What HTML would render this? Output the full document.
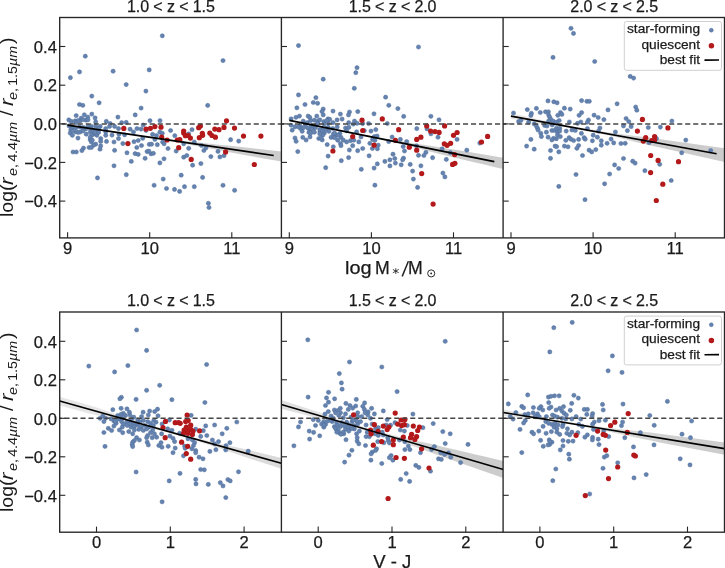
<!DOCTYPE html><html><head><meta charset="utf-8"><title>chart</title><style>
html,body{margin:0;padding:0;background:#fff;}
body{width:725px;height:568px;position:relative;overflow:hidden;font-family:"Liberation Sans",sans-serif;color:#1a1a1a;}
.t{position:absolute;white-space:nowrap;line-height:1;-webkit-text-stroke:0.25px #1a1a1a;}
.tt{font-size:16px;letter-spacing:-0.1px;transform:translateX(-50%);}
.yl{font-size:16.6px;text-align:right;width:50px;}
.xl{font-size:16.6px;transform:translateX(-50%);}
.ax{font-size:18.5px;transform:translateX(-50%);}
.lg{font-size:13.7px;text-align:right;width:80px;}
.ylab{position:absolute;font-size:20px;white-space:nowrap;line-height:1;transform-origin:0 0;transform:rotate(-90deg);}
.ylab i{font-family:"Liberation Sans",sans-serif;font-style:italic;}
.ylab sub{font-size:14px;font-style:italic;vertical-align:baseline;position:relative;top:5px;letter-spacing:0.3px;}
</style></head><body><svg width="725" height="568" viewBox="0 0 725 568" style="position:absolute;left:0;top:0"><defs><clipPath id="c0"><rect x="59.7" y="17.5" width="221.7" height="220.4"/></clipPath><clipPath id="c1"><rect x="281.4" y="17.5" width="221.7" height="220.4"/></clipPath><clipPath id="c2"><rect x="503.1" y="17.5" width="221.4" height="220.4"/></clipPath><clipPath id="c3"><rect x="59.7" y="312.0" width="221.7" height="220.2"/></clipPath><clipPath id="c4"><rect x="281.4" y="312.0" width="221.7" height="220.2"/></clipPath><clipPath id="c5"><rect x="503.1" y="312.0" width="221.4" height="220.2"/></clipPath></defs><g clip-path="url(#c0)"><linearGradient id="g0" gradientUnits="userSpaceOnUse" x1="67.4" y1="0" x2="281.4" y2="0"><stop offset="0.0000" stop-color="#c0c0c0" stop-opacity="0.300"/><stop offset="0.0417" stop-color="#c0c0c0" stop-opacity="0.309"/><stop offset="0.0833" stop-color="#c0c0c0" stop-opacity="0.317"/><stop offset="0.1250" stop-color="#c0c0c0" stop-opacity="0.326"/><stop offset="0.1667" stop-color="#c0c0c0" stop-opacity="0.335"/><stop offset="0.2083" stop-color="#c0c0c0" stop-opacity="0.343"/><stop offset="0.2500" stop-color="#c0c0c0" stop-opacity="0.352"/><stop offset="0.2917" stop-color="#c0c0c0" stop-opacity="0.361"/><stop offset="0.3333" stop-color="#c0c0c0" stop-opacity="0.370"/><stop offset="0.3750" stop-color="#c0c0c0" stop-opacity="0.378"/><stop offset="0.4167" stop-color="#c0c0c0" stop-opacity="0.387"/><stop offset="0.4583" stop-color="#c0c0c0" stop-opacity="0.396"/><stop offset="0.5000" stop-color="#c0c0c0" stop-opacity="0.451"/><stop offset="0.5417" stop-color="#c0c0c0" stop-opacity="0.555"/><stop offset="0.5833" stop-color="#c0c0c0" stop-opacity="0.659"/><stop offset="0.6250" stop-color="#c0c0c0" stop-opacity="0.751"/><stop offset="0.6667" stop-color="#c0c0c0" stop-opacity="0.763"/><stop offset="0.7083" stop-color="#c0c0c0" stop-opacity="0.774"/><stop offset="0.7500" stop-color="#c0c0c0" stop-opacity="0.785"/><stop offset="0.7917" stop-color="#c0c0c0" stop-opacity="0.796"/><stop offset="0.8333" stop-color="#c0c0c0" stop-opacity="0.800"/><stop offset="0.8750" stop-color="#c0c0c0" stop-opacity="0.800"/><stop offset="0.9167" stop-color="#c0c0c0" stop-opacity="0.800"/><stop offset="0.9583" stop-color="#c0c0c0" stop-opacity="0.800"/><stop offset="1.0000" stop-color="#c0c0c0" stop-opacity="0.800"/></linearGradient><polygon fill="url(#g0)" points="67.4,124.6 76.3,125.9 85.2,127.2 94.2,128.5 103.1,129.8 112.0,131.1 120.9,132.4 129.8,133.7 138.7,135.0 147.6,136.3 156.6,137.6 165.5,138.9 174.4,140.0 183.3,140.9 192.2,141.8 201.1,142.8 210.1,143.7 219.0,144.7 227.9,145.6 236.8,146.6 245.7,147.6 254.6,148.6 263.6,149.6 272.5,150.6 281.4,151.6 281.4,161.6 272.5,160.0 263.6,158.4 254.6,156.8 245.7,155.2 236.8,153.5 227.9,151.9 219.0,150.2 210.1,148.5 201.1,146.9 192.2,145.2 183.3,143.5 174.4,141.8 165.5,140.2 156.6,138.9 147.6,137.6 138.7,136.3 129.8,134.9 120.9,133.6 112.0,132.3 103.1,130.9 94.2,129.6 85.2,128.3 76.3,126.9 67.4,125.6"/><g fill="#6583ae" stroke="#4f6e9e" stroke-width="0.5"><circle cx="162.3" cy="35.8" r="2.1"/><circle cx="85.3" cy="56.2" r="2.1"/><circle cx="79.5" cy="71.9" r="2.1"/><circle cx="70.4" cy="77.7" r="2.1"/><circle cx="113.1" cy="71.2" r="2.1"/><circle cx="149.2" cy="69.9" r="2.1"/><circle cx="126.2" cy="84.6" r="2.1"/><circle cx="145.9" cy="91.1" r="2.1"/><circle cx="91.8" cy="96.1" r="2.1"/><circle cx="99.1" cy="102.8" r="2.1"/><circle cx="79.5" cy="104.5" r="2.1"/><circle cx="82.8" cy="105.3" r="2.1"/><circle cx="141.1" cy="108.1" r="2.1"/><circle cx="135.2" cy="114.9" r="2.1"/><circle cx="76.2" cy="115.6" r="2.1"/><circle cx="84.3" cy="114.8" r="2.1"/><circle cx="91.8" cy="114.1" r="2.1"/><circle cx="117.9" cy="117.1" r="2.1"/><circle cx="81.2" cy="118.2" r="2.1"/><circle cx="87.8" cy="117.1" r="2.1"/><circle cx="95.1" cy="117.9" r="2.1"/><circle cx="68.8" cy="119.9" r="2.1"/><circle cx="86.1" cy="120.2" r="2.1"/><circle cx="150.0" cy="120.7" r="2.1"/><circle cx="160.0" cy="120.7" r="2.1"/><circle cx="106.3" cy="121.4" r="2.1"/><circle cx="95.7" cy="121.9" r="2.1"/><circle cx="126.2" cy="122.4" r="2.1"/><circle cx="121.7" cy="122.7" r="2.1"/><circle cx="110.2" cy="123.5" r="2.1"/><circle cx="71.3" cy="121.4" r="2.1"/><circle cx="75.2" cy="120.9" r="2.1"/><circle cx="80.2" cy="120.9" r="2.1"/><circle cx="88.0" cy="119.8" r="2.1"/><circle cx="69.1" cy="125.9" r="2.1"/><circle cx="72.4" cy="127.5" r="2.1"/><circle cx="75.8" cy="128.1" r="2.1"/><circle cx="70.8" cy="129.8" r="2.1"/><circle cx="83.5" cy="127.5" r="2.1"/><circle cx="88.0" cy="126.4" r="2.1"/><circle cx="91.3" cy="126.4" r="2.1"/><circle cx="95.7" cy="126.4" r="2.1"/><circle cx="100.2" cy="126.4" r="2.1"/><circle cx="105.7" cy="128.6" r="2.1"/><circle cx="109.6" cy="126.4" r="2.1"/><circle cx="114.6" cy="126.4" r="2.1"/><circle cx="118.5" cy="128.6" r="2.1"/><circle cx="130.1" cy="129.2" r="2.1"/><circle cx="133.5" cy="132.0" r="2.1"/><circle cx="137.0" cy="128.6" r="2.1"/><circle cx="70.2" cy="133.1" r="2.1"/><circle cx="72.4" cy="135.3" r="2.1"/><circle cx="75.8" cy="132.0" r="2.1"/><circle cx="80.2" cy="132.0" r="2.1"/><circle cx="78.0" cy="138.1" r="2.1"/><circle cx="86.3" cy="134.2" r="2.1"/><circle cx="90.2" cy="132.0" r="2.1"/><circle cx="93.5" cy="134.2" r="2.1"/><circle cx="96.8" cy="132.0" r="2.1"/><circle cx="96.8" cy="135.3" r="2.1"/><circle cx="105.7" cy="132.0" r="2.1"/><circle cx="105.7" cy="135.3" r="2.1"/><circle cx="112.0" cy="135.1" r="2.1"/><circle cx="119.0" cy="134.2" r="2.1"/><circle cx="124.6" cy="134.8" r="2.1"/><circle cx="90.2" cy="139.7" r="2.1"/><circle cx="91.3" cy="142.0" r="2.1"/><circle cx="100.7" cy="138.6" r="2.1"/><circle cx="100.7" cy="141.4" r="2.1"/><circle cx="106.5" cy="141.4" r="2.1"/><circle cx="118.5" cy="138.6" r="2.1"/><circle cx="114.0" cy="142.0" r="2.1"/><circle cx="122.9" cy="143.6" r="2.1"/><circle cx="134.0" cy="141.7" r="2.1"/><circle cx="95.7" cy="144.2" r="2.1"/><circle cx="93.5" cy="145.3" r="2.1"/><circle cx="89.1" cy="147.5" r="2.1"/><circle cx="91.3" cy="147.5" r="2.1"/><circle cx="83.5" cy="148.1" r="2.1"/><circle cx="81.9" cy="150.6" r="2.1"/><circle cx="100.7" cy="145.9" r="2.1"/><circle cx="100.0" cy="149.2" r="2.1"/><circle cx="73.0" cy="152.0" r="2.1"/><circle cx="76.3" cy="152.0" r="2.1"/><circle cx="114.6" cy="150.3" r="2.1"/><circle cx="127.0" cy="152.8" r="2.1"/><circle cx="136.8" cy="147.5" r="2.1"/><circle cx="135.1" cy="153.6" r="2.1"/><circle cx="131.3" cy="161.4" r="2.1"/><circle cx="114.0" cy="165.8" r="2.1"/><circle cx="126.3" cy="174.7" r="2.1"/><circle cx="97.5" cy="177.9" r="2.1"/><circle cx="143.2" cy="125.0" r="2.1"/><circle cx="141.0" cy="129.1" r="2.1"/><circle cx="146.0" cy="130.5" r="2.1"/><circle cx="170.6" cy="130.5" r="2.1"/><circle cx="192.0" cy="129.7" r="2.1"/><circle cx="152.6" cy="134.4" r="2.1"/><circle cx="156.5" cy="135.7" r="2.1"/><circle cx="159.9" cy="132.2" r="2.1"/><circle cx="162.3" cy="133.3" r="2.1"/><circle cx="174.8" cy="135.7" r="2.1"/><circle cx="188.7" cy="133.9" r="2.1"/><circle cx="142.7" cy="138.3" r="2.1"/><circle cx="138.2" cy="140.5" r="2.1"/><circle cx="154.9" cy="139.4" r="2.1"/><circle cx="162.6" cy="142.0" r="2.1"/><circle cx="164.1" cy="143.8" r="2.1"/><circle cx="194.3" cy="142.0" r="2.1"/><circle cx="183.7" cy="143.8" r="2.1"/><circle cx="141.5" cy="145.5" r="2.1"/><circle cx="149.3" cy="144.4" r="2.1"/><circle cx="151.5" cy="144.2" r="2.1"/><circle cx="157.3" cy="144.7" r="2.1"/><circle cx="168.0" cy="148.5" r="2.1"/><circle cx="188.7" cy="148.3" r="2.1"/><circle cx="201.5" cy="145.5" r="2.1"/><circle cx="205.9" cy="147.9" r="2.1"/><circle cx="203.9" cy="150.5" r="2.1"/><circle cx="176.2" cy="151.1" r="2.1"/><circle cx="147.1" cy="151.6" r="2.1"/><circle cx="148.8" cy="151.1" r="2.1"/><circle cx="151.0" cy="153.8" r="2.1"/><circle cx="153.4" cy="153.3" r="2.1"/><circle cx="138.2" cy="154.4" r="2.1"/><circle cx="145.1" cy="158.3" r="2.1"/><circle cx="164.0" cy="158.8" r="2.1"/><circle cx="183.7" cy="157.2" r="2.1"/><circle cx="186.8" cy="155.5" r="2.1"/><circle cx="210.9" cy="156.6" r="2.1"/><circle cx="159.9" cy="162.9" r="2.1"/><circle cx="200.9" cy="163.6" r="2.1"/><circle cx="192.6" cy="165.2" r="2.1"/><circle cx="181.2" cy="175.2" r="2.1"/><circle cx="202.6" cy="177.4" r="2.1"/><circle cx="163.2" cy="179.1" r="2.1"/><circle cx="154.1" cy="185.3" r="2.1"/><circle cx="166.5" cy="188.5" r="2.1"/><circle cx="174.5" cy="189.4" r="2.1"/><circle cx="179.6" cy="191.4" r="2.1"/><circle cx="184.5" cy="186.7" r="2.1"/><circle cx="194.3" cy="186.7" r="2.1"/><circle cx="208.4" cy="203.3" r="2.1"/><circle cx="209.0" cy="207.5" r="2.1"/><circle cx="223.0" cy="60.6" r="2.1"/><circle cx="207.7" cy="105.4" r="2.1"/><circle cx="230.6" cy="139.7" r="2.1"/><circle cx="238.7" cy="141.1" r="2.1"/><circle cx="218.0" cy="151.4" r="2.1"/><circle cx="219.9" cy="156.9" r="2.1"/><circle cx="224.0" cy="155.7" r="2.1"/><circle cx="223.0" cy="185.3" r="2.1"/><circle cx="234.6" cy="190.3" r="2.1"/><circle cx="78.2" cy="120.5" r="2.1"/><circle cx="76.1" cy="122.6" r="2.1"/><circle cx="83.1" cy="119.7" r="2.1"/><circle cx="82.4" cy="128.2" r="2.1"/><circle cx="79.6" cy="126.8" r="2.1"/><circle cx="85.9" cy="128.9" r="2.1"/><circle cx="83.1" cy="131.0" r="2.1"/><circle cx="78.2" cy="132.4" r="2.1"/><circle cx="90.2" cy="128.2" r="2.1"/><circle cx="93.0" cy="130.3" r="2.1"/><circle cx="91.6" cy="135.2" r="2.1"/><circle cx="95.1" cy="132.4" r="2.1"/><circle cx="98.6" cy="128.2" r="2.1"/><circle cx="98.6" cy="132.4" r="2.1"/><circle cx="72.6" cy="131.0" r="2.1"/><circle cx="90.2" cy="137.4" r="2.1"/><circle cx="92.3" cy="140.2" r="2.1"/></g><g fill="#b3181a"><circle cx="123.8" cy="128.4" r="2.6"/><circle cx="127.9" cy="143.6" r="2.6"/><circle cx="146.0" cy="129.1" r="2.6"/><circle cx="150.4" cy="128.3" r="2.6"/><circle cx="154.9" cy="126.6" r="2.6"/><circle cx="161.0" cy="127.2" r="2.6"/><circle cx="161.7" cy="137.2" r="2.6"/><circle cx="167.1" cy="140.0" r="2.6"/><circle cx="177.3" cy="140.0" r="2.6"/><circle cx="179.8" cy="139.7" r="2.6"/><circle cx="178.7" cy="147.7" r="2.6"/><circle cx="183.7" cy="131.1" r="2.6"/><circle cx="183.7" cy="133.1" r="2.6"/><circle cx="185.4" cy="135.7" r="2.6"/><circle cx="188.2" cy="135.5" r="2.6"/><circle cx="190.4" cy="138.1" r="2.6"/><circle cx="200.4" cy="126.1" r="2.6"/><circle cx="198.7" cy="127.7" r="2.6"/><circle cx="202.3" cy="133.3" r="2.6"/><circle cx="199.3" cy="137.7" r="2.6"/><circle cx="202.6" cy="135.3" r="2.6"/><circle cx="209.8" cy="133.1" r="2.6"/><circle cx="212.0" cy="135.5" r="2.6"/><circle cx="214.8" cy="129.1" r="2.6"/><circle cx="215.4" cy="137.2" r="2.6"/><circle cx="191.2" cy="159.4" r="2.6"/><circle cx="226.5" cy="120.8" r="2.6"/><circle cx="224.0" cy="127.4" r="2.6"/><circle cx="219.0" cy="129.7" r="2.6"/><circle cx="234.5" cy="128.1" r="2.6"/><circle cx="243.5" cy="136.1" r="2.6"/><circle cx="260.9" cy="136.1" r="2.6"/><circle cx="225.6" cy="151.9" r="2.6"/><circle cx="254.3" cy="164.5" r="2.6"/></g><line x1="59.7" y1="123.9" x2="281.4" y2="123.9" stroke="#454545" stroke-width="1.5" stroke-dasharray="5.1 2.9" stroke-dashoffset="6"/><line x1="67.4" y1="125.1" x2="273.7" y2="155.5" stroke="#000" stroke-width="1.6"/></g><g clip-path="url(#c1)"><linearGradient id="g1" gradientUnits="userSpaceOnUse" x1="289.4" y1="0" x2="503.1" y2="0"><stop offset="0.0000" stop-color="#c0c0c0" stop-opacity="0.300"/><stop offset="0.0417" stop-color="#c0c0c0" stop-opacity="0.310"/><stop offset="0.0833" stop-color="#c0c0c0" stop-opacity="0.320"/><stop offset="0.1250" stop-color="#c0c0c0" stop-opacity="0.329"/><stop offset="0.1667" stop-color="#c0c0c0" stop-opacity="0.339"/><stop offset="0.2083" stop-color="#c0c0c0" stop-opacity="0.349"/><stop offset="0.2500" stop-color="#c0c0c0" stop-opacity="0.359"/><stop offset="0.2917" stop-color="#c0c0c0" stop-opacity="0.369"/><stop offset="0.3333" stop-color="#c0c0c0" stop-opacity="0.379"/><stop offset="0.3750" stop-color="#c0c0c0" stop-opacity="0.388"/><stop offset="0.4167" stop-color="#c0c0c0" stop-opacity="0.398"/><stop offset="0.4583" stop-color="#c0c0c0" stop-opacity="0.471"/><stop offset="0.5000" stop-color="#c0c0c0" stop-opacity="0.557"/><stop offset="0.5417" stop-color="#c0c0c0" stop-opacity="0.643"/><stop offset="0.5833" stop-color="#c0c0c0" stop-opacity="0.712"/><stop offset="0.6250" stop-color="#c0c0c0" stop-opacity="0.748"/><stop offset="0.6667" stop-color="#c0c0c0" stop-opacity="0.783"/><stop offset="0.7083" stop-color="#c0c0c0" stop-opacity="0.800"/><stop offset="0.7500" stop-color="#c0c0c0" stop-opacity="0.800"/><stop offset="0.7917" stop-color="#c0c0c0" stop-opacity="0.800"/><stop offset="0.8333" stop-color="#c0c0c0" stop-opacity="0.800"/><stop offset="0.8750" stop-color="#c0c0c0" stop-opacity="0.800"/><stop offset="0.9167" stop-color="#c0c0c0" stop-opacity="0.800"/><stop offset="0.9583" stop-color="#c0c0c0" stop-opacity="0.800"/><stop offset="1.0000" stop-color="#c0c0c0" stop-opacity="0.800"/></linearGradient><polygon fill="url(#g1)" points="289.4,119.9 298.3,121.7 307.2,123.4 316.1,125.2 325.0,127.0 333.9,128.8 342.8,130.5 351.7,132.3 360.6,134.1 369.5,135.8 378.4,137.6 387.3,139.1 396.2,140.6 405.2,142.1 414.1,143.5 423.0,144.8 431.9,146.1 440.8,147.4 449.7,148.9 458.6,150.3 467.5,151.7 476.4,153.2 485.3,154.8 494.2,156.3 503.1,157.8 503.1,169.0 494.2,166.9 485.3,164.8 476.4,162.8 467.5,160.7 458.6,158.6 449.7,156.4 440.8,154.2 431.9,152.0 423.0,149.7 414.1,147.4 405.2,145.3 396.2,143.2 387.3,141.1 378.4,139.0 369.5,137.2 360.6,135.4 351.7,133.6 342.8,131.8 333.9,130.0 325.0,128.1 316.1,126.3 307.2,124.5 298.3,122.7 289.4,120.9"/><g fill="#6583ae" stroke="#4f6e9e" stroke-width="0.5"><circle cx="298.5" cy="45.6" r="2.1"/><circle cx="357.0" cy="67.7" r="2.1"/><circle cx="355.8" cy="72.7" r="2.1"/><circle cx="323.2" cy="79.2" r="2.1"/><circle cx="354.3" cy="88.3" r="2.1"/><circle cx="298.5" cy="94.9" r="2.1"/><circle cx="315.9" cy="97.7" r="2.1"/><circle cx="385.6" cy="97.2" r="2.1"/><circle cx="313.3" cy="102.5" r="2.1"/><circle cx="317.6" cy="103.3" r="2.1"/><circle cx="305.0" cy="104.5" r="2.1"/><circle cx="388.8" cy="105.3" r="2.1"/><circle cx="296.9" cy="107.8" r="2.1"/><circle cx="397.9" cy="108.6" r="2.1"/><circle cx="323.2" cy="109.0" r="2.1"/><circle cx="322.0" cy="111.5" r="2.1"/><circle cx="333.0" cy="111.1" r="2.1"/><circle cx="349.5" cy="112.0" r="2.1"/><circle cx="357.8" cy="111.6" r="2.1"/><circle cx="340.4" cy="114.1" r="2.1"/><circle cx="348.5" cy="114.9" r="2.1"/><circle cx="374.0" cy="113.8" r="2.1"/><circle cx="323.2" cy="114.9" r="2.1"/><circle cx="308.1" cy="116.1" r="2.1"/><circle cx="316.8" cy="116.1" r="2.1"/><circle cx="299.5" cy="116.1" r="2.1"/><circle cx="296.0" cy="117.3" r="2.1"/><circle cx="309.8" cy="117.4" r="2.1"/><circle cx="291.1" cy="118.9" r="2.1"/><circle cx="328.0" cy="118.9" r="2.1"/><circle cx="329.7" cy="119.4" r="2.1"/><circle cx="337.1" cy="119.9" r="2.1"/><circle cx="342.1" cy="119.1" r="2.1"/><circle cx="314.3" cy="120.2" r="2.1"/><circle cx="303.2" cy="121.1" r="2.1"/><circle cx="318.1" cy="121.1" r="2.1"/><circle cx="323.9" cy="121.6" r="2.1"/><circle cx="348.7" cy="122.7" r="2.1"/><circle cx="354.5" cy="121.1" r="2.1"/><circle cx="307.3" cy="122.7" r="2.1"/><circle cx="333.0" cy="122.7" r="2.1"/><circle cx="387.3" cy="123.5" r="2.1"/><circle cx="368.6" cy="123.5" r="2.1"/><circle cx="291.1" cy="125.2" r="2.1"/><circle cx="295.0" cy="126.9" r="2.1"/><circle cx="300.0" cy="125.8" r="2.1"/><circle cx="305.5" cy="124.6" r="2.1"/><circle cx="311.1" cy="125.8" r="2.1"/><circle cx="316.6" cy="124.6" r="2.1"/><circle cx="292.2" cy="130.2" r="2.1"/><circle cx="300.5" cy="128.5" r="2.1"/><circle cx="302.2" cy="131.3" r="2.1"/><circle cx="307.7" cy="128.0" r="2.1"/><circle cx="310.0" cy="130.2" r="2.1"/><circle cx="308.9" cy="132.4" r="2.1"/><circle cx="313.3" cy="128.0" r="2.1"/><circle cx="314.4" cy="132.2" r="2.1"/><circle cx="320.0" cy="131.9" r="2.1"/><circle cx="322.7" cy="129.1" r="2.1"/><circle cx="326.6" cy="128.0" r="2.1"/><circle cx="328.8" cy="131.3" r="2.1"/><circle cx="324.4" cy="133.0" r="2.1"/><circle cx="322.7" cy="135.2" r="2.1"/><circle cx="332.7" cy="128.5" r="2.1"/><circle cx="337.2" cy="126.9" r="2.1"/><circle cx="333.3" cy="134.1" r="2.1"/><circle cx="336.6" cy="135.2" r="2.1"/><circle cx="339.9" cy="133.5" r="2.1"/><circle cx="345.5" cy="128.0" r="2.1"/><circle cx="348.8" cy="127.4" r="2.1"/><circle cx="346.6" cy="130.8" r="2.1"/><circle cx="353.3" cy="124.1" r="2.1"/><circle cx="356.6" cy="131.9" r="2.1"/><circle cx="295.0" cy="138.0" r="2.1"/><circle cx="296.1" cy="141.3" r="2.1"/><circle cx="302.8" cy="137.4" r="2.1"/><circle cx="306.1" cy="140.0" r="2.1"/><circle cx="310.0" cy="136.9" r="2.1"/><circle cx="318.8" cy="138.5" r="2.1"/><circle cx="322.2" cy="140.0" r="2.1"/><circle cx="331.1" cy="137.4" r="2.1"/><circle cx="334.4" cy="137.7" r="2.1"/><circle cx="337.7" cy="140.2" r="2.1"/><circle cx="341.0" cy="137.4" r="2.1"/><circle cx="343.3" cy="140.2" r="2.1"/><circle cx="346.6" cy="141.9" r="2.1"/><circle cx="350.5" cy="140.7" r="2.1"/><circle cx="353.8" cy="140.2" r="2.1"/><circle cx="358.8" cy="141.9" r="2.1"/><circle cx="327.2" cy="144.6" r="2.1"/><circle cx="340.5" cy="143.5" r="2.1"/><circle cx="341.0" cy="145.7" r="2.1"/><circle cx="333.3" cy="146.8" r="2.1"/><circle cx="352.7" cy="145.7" r="2.1"/><circle cx="297.8" cy="151.6" r="2.1"/><circle cx="349.4" cy="150.0" r="2.1"/><circle cx="357.7" cy="150.7" r="2.1"/><circle cx="328.1" cy="156.1" r="2.1"/><circle cx="348.6" cy="157.6" r="2.1"/><circle cx="341.3" cy="160.7" r="2.1"/><circle cx="325.7" cy="167.7" r="2.1"/><circle cx="361.3" cy="169.3" r="2.1"/><circle cx="403.7" cy="116.4" r="2.1"/><circle cx="430.9" cy="116.3" r="2.1"/><circle cx="357.1" cy="123.3" r="2.1"/><circle cx="362.7" cy="123.6" r="2.1"/><circle cx="416.8" cy="128.6" r="2.1"/><circle cx="375.8" cy="129.6" r="2.1"/><circle cx="371.0" cy="131.1" r="2.1"/><circle cx="364.3" cy="130.7" r="2.1"/><circle cx="427.0" cy="128.9" r="2.1"/><circle cx="430.9" cy="133.8" r="2.1"/><circle cx="392.1" cy="137.0" r="2.1"/><circle cx="377.1" cy="136.1" r="2.1"/><circle cx="374.3" cy="136.6" r="2.1"/><circle cx="361.0" cy="137.0" r="2.1"/><circle cx="400.4" cy="139.4" r="2.1"/><circle cx="372.6" cy="139.4" r="2.1"/><circle cx="374.9" cy="140.3" r="2.1"/><circle cx="406.7" cy="141.6" r="2.1"/><circle cx="388.7" cy="141.6" r="2.1"/><circle cx="369.9" cy="143.3" r="2.1"/><circle cx="378.2" cy="145.2" r="2.1"/><circle cx="416.5" cy="145.8" r="2.1"/><circle cx="403.2" cy="146.6" r="2.1"/><circle cx="362.7" cy="148.5" r="2.1"/><circle cx="372.4" cy="148.5" r="2.1"/><circle cx="377.4" cy="148.8" r="2.1"/><circle cx="404.5" cy="151.0" r="2.1"/><circle cx="425.9" cy="152.4" r="2.1"/><circle cx="393.0" cy="154.2" r="2.1"/><circle cx="418.5" cy="155.3" r="2.1"/><circle cx="423.9" cy="155.5" r="2.1"/><circle cx="369.1" cy="155.8" r="2.1"/><circle cx="432.6" cy="157.7" r="2.1"/><circle cx="403.5" cy="158.2" r="2.1"/><circle cx="394.8" cy="158.5" r="2.1"/><circle cx="402.6" cy="159.8" r="2.1"/><circle cx="389.9" cy="159.8" r="2.1"/><circle cx="384.9" cy="161.4" r="2.1"/><circle cx="395.4" cy="163.1" r="2.1"/><circle cx="377.3" cy="163.9" r="2.1"/><circle cx="389.9" cy="165.9" r="2.1"/><circle cx="401.2" cy="164.8" r="2.1"/><circle cx="410.2" cy="164.4" r="2.1"/><circle cx="420.9" cy="165.8" r="2.1"/><circle cx="374.1" cy="168.1" r="2.1"/><circle cx="412.6" cy="171.1" r="2.1"/><circle cx="413.4" cy="179.1" r="2.1"/><circle cx="374.9" cy="185.2" r="2.1"/><circle cx="417.6" cy="187.4" r="2.1"/><circle cx="439.0" cy="119.8" r="2.1"/><circle cx="438.0" cy="137.2" r="2.1"/><circle cx="457.1" cy="139.4" r="2.1"/><circle cx="479.8" cy="143.1" r="2.1"/><circle cx="442.1" cy="148.8" r="2.1"/><circle cx="466.8" cy="150.2" r="2.1"/><circle cx="450.4" cy="152.7" r="2.1"/><circle cx="446.3" cy="159.4" r="2.1"/><circle cx="442.9" cy="173.1" r="2.1"/><circle cx="444.9" cy="176.9" r="2.1"/><circle cx="418.5" cy="47.0" r="2.1"/><circle cx="317.7" cy="123.4" r="2.1"/><circle cx="310.6" cy="120.6" r="2.1"/><circle cx="319.8" cy="119.9" r="2.1"/><circle cx="298.7" cy="126.9" r="2.1"/><circle cx="303.6" cy="127.6" r="2.1"/><circle cx="311.4" cy="129.0" r="2.1"/><circle cx="315.6" cy="127.6" r="2.1"/><circle cx="310.6" cy="133.2" r="2.1"/><circle cx="319.8" cy="129.7" r="2.1"/><circle cx="322.6" cy="131.1" r="2.1"/><circle cx="325.4" cy="129.7" r="2.1"/><circle cx="319.8" cy="133.9" r="2.1"/><circle cx="328.3" cy="127.6" r="2.1"/><circle cx="321.2" cy="138.2" r="2.1"/><circle cx="324.0" cy="124.1" r="2.1"/><circle cx="328.3" cy="123.4" r="2.1"/><circle cx="326.8" cy="120.6" r="2.1"/><circle cx="334.6" cy="133.2" r="2.1"/><circle cx="338.2" cy="135.2" r="2.1"/></g><g fill="#b3181a"><circle cx="362.0" cy="120.2" r="2.6"/><circle cx="382.3" cy="118.9" r="2.6"/><circle cx="352.7" cy="136.5" r="2.6"/><circle cx="332.9" cy="151.0" r="2.6"/><circle cx="362.7" cy="130.5" r="2.6"/><circle cx="398.7" cy="129.7" r="2.6"/><circle cx="426.7" cy="125.9" r="2.6"/><circle cx="430.6" cy="131.1" r="2.6"/><circle cx="435.0" cy="131.6" r="2.6"/><circle cx="420.9" cy="137.2" r="2.6"/><circle cx="416.7" cy="139.4" r="2.6"/><circle cx="395.4" cy="140.3" r="2.6"/><circle cx="374.1" cy="145.2" r="2.6"/><circle cx="409.3" cy="147.2" r="2.6"/><circle cx="416.7" cy="150.2" r="2.6"/><circle cx="421.7" cy="173.6" r="2.6"/><circle cx="433.1" cy="204.1" r="2.6"/><circle cx="444.6" cy="125.9" r="2.6"/><circle cx="439.1" cy="132.4" r="2.6"/><circle cx="457.1" cy="132.5" r="2.6"/><circle cx="453.5" cy="135.3" r="2.6"/><circle cx="487.6" cy="136.4" r="2.6"/><circle cx="481.5" cy="142.0" r="2.6"/><circle cx="444.3" cy="143.8" r="2.6"/><circle cx="447.1" cy="145.3" r="2.6"/><circle cx="450.6" cy="143.3" r="2.6"/><circle cx="454.6" cy="154.6" r="2.6"/><circle cx="452.6" cy="164.4" r="2.6"/><circle cx="454.9" cy="163.3" r="2.6"/></g><line x1="281.4" y1="123.9" x2="503.1" y2="123.9" stroke="#454545" stroke-width="1.5" stroke-dasharray="5.1 2.9" stroke-dashoffset="2.4"/><line x1="289.4" y1="120.4" x2="494.3" y2="161.6" stroke="#000" stroke-width="1.6"/></g><g clip-path="url(#c2)"><linearGradient id="g2" gradientUnits="userSpaceOnUse" x1="510.9" y1="0" x2="724.5" y2="0"><stop offset="0.0000" stop-color="#c0c0c0" stop-opacity="0.350"/><stop offset="0.0417" stop-color="#c0c0c0" stop-opacity="0.350"/><stop offset="0.0833" stop-color="#c0c0c0" stop-opacity="0.350"/><stop offset="0.1250" stop-color="#c0c0c0" stop-opacity="0.350"/><stop offset="0.1667" stop-color="#c0c0c0" stop-opacity="0.350"/><stop offset="0.2083" stop-color="#c0c0c0" stop-opacity="0.350"/><stop offset="0.2500" stop-color="#c0c0c0" stop-opacity="0.350"/><stop offset="0.2917" stop-color="#c0c0c0" stop-opacity="0.350"/><stop offset="0.3333" stop-color="#c0c0c0" stop-opacity="0.380"/><stop offset="0.3750" stop-color="#c0c0c0" stop-opacity="0.419"/><stop offset="0.4167" stop-color="#c0c0c0" stop-opacity="0.457"/><stop offset="0.4583" stop-color="#c0c0c0" stop-opacity="0.495"/><stop offset="0.5000" stop-color="#c0c0c0" stop-opacity="0.558"/><stop offset="0.5417" stop-color="#c0c0c0" stop-opacity="0.625"/><stop offset="0.5833" stop-color="#c0c0c0" stop-opacity="0.691"/><stop offset="0.6250" stop-color="#c0c0c0" stop-opacity="0.758"/><stop offset="0.6667" stop-color="#c0c0c0" stop-opacity="0.800"/><stop offset="0.7083" stop-color="#c0c0c0" stop-opacity="0.800"/><stop offset="0.7500" stop-color="#c0c0c0" stop-opacity="0.800"/><stop offset="0.7917" stop-color="#c0c0c0" stop-opacity="0.800"/><stop offset="0.8333" stop-color="#c0c0c0" stop-opacity="0.800"/><stop offset="0.8750" stop-color="#c0c0c0" stop-opacity="0.800"/><stop offset="0.9167" stop-color="#c0c0c0" stop-opacity="0.800"/><stop offset="0.9583" stop-color="#c0c0c0" stop-opacity="0.800"/><stop offset="1.0000" stop-color="#c0c0c0" stop-opacity="0.800"/></linearGradient><polygon fill="url(#g2)" points="510.9,113.1 519.8,115.1 528.7,117.1 537.6,119.1 546.5,121.0 555.4,122.8 564.3,124.6 573.2,126.4 582.1,128.0 591.0,129.5 599.9,130.9 608.8,132.4 617.7,133.6 626.6,134.7 635.5,135.9 644.4,137.0 653.3,138.2 662.2,139.4 671.1,140.7 680.0,141.9 688.9,143.2 697.8,144.5 706.7,145.8 715.6,147.1 724.5,148.3 724.5,161.9 715.6,160.0 706.7,158.0 697.8,156.1 688.9,154.1 680.0,152.1 671.1,150.1 662.2,148.1 653.3,146.1 644.4,144.0 635.5,141.9 626.6,139.8 617.7,137.6 608.8,135.6 599.9,133.8 591.0,132.0 582.1,130.2 573.2,128.5 564.3,127.1 555.4,125.7 546.5,124.3 537.6,122.9 528.7,121.6 519.8,120.4 510.9,119.1"/><g fill="#6583ae" stroke="#4f6e9e" stroke-width="0.5"><circle cx="571.0" cy="28.3" r="2.1"/><circle cx="573.5" cy="33.4" r="2.1"/><circle cx="553.0" cy="57.4" r="2.1"/><circle cx="594.7" cy="61.5" r="2.1"/><circle cx="548.0" cy="100.9" r="2.1"/><circle cx="553.8" cy="101.8" r="2.1"/><circle cx="557.1" cy="102.8" r="2.1"/><circle cx="581.6" cy="100.6" r="2.1"/><circle cx="586.9" cy="101.3" r="2.1"/><circle cx="589.3" cy="101.3" r="2.1"/><circle cx="617.1" cy="103.8" r="2.1"/><circle cx="536.4" cy="108.4" r="2.1"/><circle cx="564.4" cy="108.2" r="2.1"/><circle cx="527.3" cy="109.6" r="2.1"/><circle cx="570.2" cy="109.1" r="2.1"/><circle cx="608.0" cy="109.9" r="2.1"/><circle cx="513.5" cy="113.0" r="2.1"/><circle cx="540.3" cy="112.5" r="2.1"/><circle cx="545.5" cy="111.8" r="2.1"/><circle cx="548.4" cy="111.8" r="2.1"/><circle cx="560.5" cy="112.5" r="2.1"/><circle cx="581.6" cy="112.6" r="2.1"/><circle cx="531.4" cy="113.3" r="2.1"/><circle cx="530.9" cy="115.5" r="2.1"/><circle cx="548.6" cy="115.0" r="2.1"/><circle cx="549.7" cy="117.2" r="2.1"/><circle cx="557.8" cy="115.3" r="2.1"/><circle cx="561.9" cy="114.4" r="2.1"/><circle cx="579.1" cy="115.3" r="2.1"/><circle cx="550.8" cy="119.4" r="2.1"/><circle cx="553.1" cy="121.1" r="2.1"/><circle cx="548.6" cy="121.1" r="2.1"/><circle cx="559.2" cy="120.5" r="2.1"/><circle cx="556.4" cy="122.2" r="2.1"/><circle cx="569.4" cy="122.0" r="2.1"/><circle cx="580.8" cy="122.0" r="2.1"/><circle cx="577.5" cy="123.3" r="2.1"/><circle cx="518.6" cy="121.6" r="2.1"/><circle cx="520.9" cy="120.5" r="2.1"/><circle cx="528.6" cy="122.2" r="2.1"/><circle cx="534.2" cy="123.9" r="2.1"/><circle cx="536.4" cy="126.1" r="2.1"/><circle cx="537.5" cy="128.3" r="2.1"/><circle cx="538.1" cy="130.0" r="2.1"/><circle cx="544.7" cy="125.5" r="2.1"/><circle cx="546.4" cy="132.2" r="2.1"/><circle cx="540.8" cy="133.3" r="2.1"/><circle cx="541.4" cy="136.6" r="2.1"/><circle cx="551.9" cy="130.5" r="2.1"/><circle cx="554.2" cy="130.5" r="2.1"/><circle cx="556.4" cy="128.3" r="2.1"/><circle cx="559.7" cy="128.3" r="2.1"/><circle cx="557.5" cy="132.2" r="2.1"/><circle cx="559.7" cy="131.1" r="2.1"/><circle cx="557.5" cy="135.0" r="2.1"/><circle cx="560.3" cy="136.6" r="2.1"/><circle cx="556.4" cy="138.8" r="2.1"/><circle cx="553.6" cy="138.3" r="2.1"/><circle cx="551.9" cy="140.0" r="2.1"/><circle cx="548.1" cy="137.2" r="2.1"/><circle cx="566.2" cy="131.1" r="2.1"/><circle cx="571.9" cy="130.0" r="2.1"/><circle cx="575.3" cy="130.5" r="2.1"/><circle cx="581.4" cy="133.3" r="2.1"/><circle cx="569.1" cy="137.7" r="2.1"/><circle cx="565.8" cy="140.3" r="2.1"/><circle cx="570.8" cy="139.2" r="2.1"/><circle cx="573.6" cy="140.5" r="2.1"/><circle cx="578.6" cy="139.4" r="2.1"/><circle cx="530.9" cy="139.4" r="2.1"/><circle cx="526.6" cy="146.1" r="2.1"/><circle cx="534.2" cy="149.2" r="2.1"/><circle cx="555.1" cy="146.1" r="2.1"/><circle cx="556.6" cy="146.6" r="2.1"/><circle cx="564.4" cy="146.1" r="2.1"/><circle cx="568.0" cy="146.8" r="2.1"/><circle cx="578.6" cy="145.5" r="2.1"/><circle cx="576.9" cy="148.3" r="2.1"/><circle cx="550.5" cy="150.5" r="2.1"/><circle cx="558.8" cy="151.9" r="2.1"/><circle cx="550.5" cy="158.3" r="2.1"/><circle cx="582.5" cy="155.5" r="2.1"/><circle cx="635.7" cy="107.0" r="2.1"/><circle cx="636.8" cy="110.2" r="2.1"/><circle cx="594.1" cy="115.2" r="2.1"/><circle cx="598.2" cy="117.5" r="2.1"/><circle cx="603.9" cy="119.6" r="2.1"/><circle cx="588.5" cy="120.0" r="2.1"/><circle cx="587.4" cy="122.2" r="2.1"/><circle cx="626.1" cy="118.5" r="2.1"/><circle cx="628.8" cy="121.6" r="2.1"/><circle cx="623.5" cy="125.9" r="2.1"/><circle cx="631.1" cy="126.6" r="2.1"/><circle cx="648.3" cy="127.5" r="2.1"/><circle cx="599.9" cy="128.0" r="2.1"/><circle cx="587.4" cy="128.6" r="2.1"/><circle cx="598.5" cy="131.1" r="2.1"/><circle cx="615.4" cy="132.0" r="2.1"/><circle cx="627.4" cy="130.7" r="2.1"/><circle cx="593.2" cy="135.2" r="2.1"/><circle cx="597.4" cy="137.2" r="2.1"/><circle cx="584.1" cy="137.7" r="2.1"/><circle cx="585.2" cy="139.2" r="2.1"/><circle cx="611.1" cy="139.1" r="2.1"/><circle cx="592.4" cy="140.8" r="2.1"/><circle cx="601.3" cy="140.8" r="2.1"/><circle cx="607.1" cy="143.3" r="2.1"/><circle cx="613.7" cy="142.9" r="2.1"/><circle cx="621.0" cy="143.5" r="2.1"/><circle cx="625.2" cy="143.3" r="2.1"/><circle cx="601.3" cy="145.2" r="2.1"/><circle cx="595.8" cy="149.6" r="2.1"/><circle cx="589.1" cy="150.2" r="2.1"/><circle cx="591.7" cy="151.9" r="2.1"/><circle cx="649.0" cy="142.7" r="2.1"/><circle cx="623.5" cy="158.5" r="2.1"/><circle cx="576.0" cy="174.5" r="2.1"/><circle cx="558.8" cy="186.4" r="2.1"/><circle cx="585.0" cy="199.7" r="2.1"/><circle cx="614.6" cy="164.9" r="2.1"/><circle cx="618.7" cy="168.5" r="2.1"/><circle cx="609.6" cy="174.0" r="2.1"/><circle cx="604.6" cy="183.8" r="2.1"/><circle cx="671.9" cy="121.0" r="2.1"/><circle cx="660.4" cy="127.1" r="2.1"/><circle cx="656.5" cy="138.6" r="2.1"/><circle cx="685.8" cy="140.1" r="2.1"/><circle cx="681.7" cy="152.8" r="2.1"/><circle cx="710.7" cy="150.5" r="2.1"/><circle cx="632.7" cy="161.2" r="2.1"/><circle cx="635.1" cy="163.1" r="2.1"/><circle cx="659.7" cy="164.3" r="2.1"/><circle cx="644.9" cy="170.7" r="2.1"/><circle cx="671.2" cy="180.5" r="2.1"/><circle cx="630.2" cy="76.4" r="2.1"/><circle cx="633.6" cy="78.1" r="2.1"/><circle cx="547.0" cy="126.0" r="2.1"/><circle cx="552.2" cy="124.9" r="2.1"/></g><g fill="#b3181a"><circle cx="642.4" cy="119.4" r="2.6"/><circle cx="637.4" cy="131.1" r="2.6"/><circle cx="645.7" cy="137.7" r="2.6"/><circle cx="643.3" cy="141.1" r="2.6"/><circle cx="654.6" cy="136.6" r="2.6"/><circle cx="651.8" cy="140.5" r="2.6"/><circle cx="654.6" cy="140.0" r="2.6"/><circle cx="650.7" cy="155.5" r="2.6"/><circle cx="667.9" cy="127.9" r="2.6"/><circle cx="658.1" cy="160.4" r="2.6"/><circle cx="678.5" cy="161.7" r="2.6"/><circle cx="650.6" cy="172.6" r="2.6"/><circle cx="662.8" cy="184.2" r="2.6"/><circle cx="656.3" cy="200.5" r="2.6"/></g><line x1="503.1" y1="123.9" x2="724.5" y2="123.9" stroke="#454545" stroke-width="1.5" stroke-dasharray="5.1 2.9" stroke-dashoffset="1.9"/><line x1="510.9" y1="116.1" x2="716.6" y2="153.7" stroke="#000" stroke-width="1.6"/></g><g clip-path="url(#c3)"><linearGradient id="g3" gradientUnits="userSpaceOnUse" x1="59.7" y1="0" x2="281.4" y2="0"><stop offset="0.0000" stop-color="#c0c0c0" stop-opacity="0.400"/><stop offset="0.0417" stop-color="#c0c0c0" stop-opacity="0.400"/><stop offset="0.0833" stop-color="#c0c0c0" stop-opacity="0.400"/><stop offset="0.1250" stop-color="#c0c0c0" stop-opacity="0.400"/><stop offset="0.1667" stop-color="#c0c0c0" stop-opacity="0.400"/><stop offset="0.2083" stop-color="#c0c0c0" stop-opacity="0.400"/><stop offset="0.2500" stop-color="#c0c0c0" stop-opacity="0.400"/><stop offset="0.2917" stop-color="#c0c0c0" stop-opacity="0.400"/><stop offset="0.3333" stop-color="#c0c0c0" stop-opacity="0.400"/><stop offset="0.3750" stop-color="#c0c0c0" stop-opacity="0.400"/><stop offset="0.4167" stop-color="#c0c0c0" stop-opacity="0.400"/><stop offset="0.4583" stop-color="#c0c0c0" stop-opacity="0.400"/><stop offset="0.5000" stop-color="#c0c0c0" stop-opacity="0.408"/><stop offset="0.5417" stop-color="#c0c0c0" stop-opacity="0.421"/><stop offset="0.5833" stop-color="#c0c0c0" stop-opacity="0.434"/><stop offset="0.6250" stop-color="#c0c0c0" stop-opacity="0.448"/><stop offset="0.6667" stop-color="#c0c0c0" stop-opacity="0.465"/><stop offset="0.7083" stop-color="#c0c0c0" stop-opacity="0.483"/><stop offset="0.7500" stop-color="#c0c0c0" stop-opacity="0.502"/><stop offset="0.7917" stop-color="#c0c0c0" stop-opacity="0.520"/><stop offset="0.8333" stop-color="#c0c0c0" stop-opacity="0.539"/><stop offset="0.8750" stop-color="#c0c0c0" stop-opacity="0.556"/><stop offset="0.9167" stop-color="#c0c0c0" stop-opacity="0.570"/><stop offset="0.9583" stop-color="#c0c0c0" stop-opacity="0.585"/><stop offset="1.0000" stop-color="#c0c0c0" stop-opacity="0.600"/></linearGradient><polygon fill="url(#g3)" points="59.7,396.8 68.9,399.5 78.2,402.1 87.4,404.8 96.7,407.6 105.9,410.7 115.1,413.7 124.4,416.9 133.6,420.0 142.8,422.8 152.1,425.6 161.3,428.3 170.5,431.0 179.8,433.4 189.0,435.9 198.3,438.4 207.5,440.6 216.7,442.8 226.0,444.9 235.2,447.0 244.4,449.1 253.7,451.2 262.9,453.5 272.2,455.7 281.4,457.9 281.4,468.7 272.2,465.8 262.9,462.8 253.7,459.9 244.4,456.8 235.2,453.7 226.0,450.6 216.7,447.6 207.5,444.5 198.3,441.6 189.0,438.9 179.8,436.2 170.5,433.5 161.3,430.9 152.1,428.5 142.8,426.1 133.6,423.7 124.4,421.6 115.1,419.6 105.9,417.5 96.7,415.3 87.4,413.0 78.2,410.5 68.9,407.9 59.7,405.4"/><g fill="#6583ae" stroke="#4f6e9e" stroke-width="0.5"><circle cx="136.6" cy="330.0" r="2.1"/><circle cx="146.6" cy="350.4" r="2.1"/><circle cx="88.8" cy="366.1" r="2.1"/><circle cx="127.9" cy="365.6" r="2.1"/><circle cx="114.6" cy="371.9" r="2.1"/><circle cx="159.7" cy="385.3" r="2.1"/><circle cx="146.6" cy="390.3" r="2.1"/><circle cx="121.4" cy="397.3" r="2.1"/><circle cx="119.9" cy="398.8" r="2.1"/><circle cx="136.1" cy="399.4" r="2.1"/><circle cx="171.9" cy="399.7" r="2.1"/><circle cx="112.8" cy="409.7" r="2.1"/><circle cx="121.1" cy="408.3" r="2.1"/><circle cx="127.0" cy="408.9" r="2.1"/><circle cx="129.4" cy="412.2" r="2.1"/><circle cx="143.1" cy="412.2" r="2.1"/><circle cx="149.6" cy="411.1" r="2.1"/><circle cx="154.7" cy="411.6" r="2.1"/><circle cx="157.5" cy="409.2" r="2.1"/><circle cx="123.3" cy="413.3" r="2.1"/><circle cx="121.1" cy="414.4" r="2.1"/><circle cx="117.7" cy="415.5" r="2.1"/><circle cx="125.5" cy="415.5" r="2.1"/><circle cx="130.0" cy="415.0" r="2.1"/><circle cx="133.8" cy="417.2" r="2.1"/><circle cx="141.6" cy="416.6" r="2.1"/><circle cx="148.3" cy="415.0" r="2.1"/><circle cx="158.0" cy="415.8" r="2.1"/><circle cx="100.0" cy="418.3" r="2.1"/><circle cx="102.8" cy="416.1" r="2.1"/><circle cx="105.5" cy="418.3" r="2.1"/><circle cx="103.9" cy="421.6" r="2.1"/><circle cx="111.1" cy="418.9" r="2.1"/><circle cx="113.9" cy="421.1" r="2.1"/><circle cx="116.6" cy="420.0" r="2.1"/><circle cx="116.1" cy="423.3" r="2.1"/><circle cx="120.0" cy="418.9" r="2.1"/><circle cx="121.6" cy="421.6" r="2.1"/><circle cx="123.3" cy="424.4" r="2.1"/><circle cx="126.6" cy="422.2" r="2.1"/><circle cx="127.2" cy="425.5" r="2.1"/><circle cx="130.0" cy="421.1" r="2.1"/><circle cx="130.5" cy="424.4" r="2.1"/><circle cx="133.8" cy="423.3" r="2.1"/><circle cx="134.4" cy="426.6" r="2.1"/><circle cx="137.7" cy="420.0" r="2.1"/><circle cx="139.9" cy="421.6" r="2.1"/><circle cx="143.3" cy="420.5" r="2.1"/><circle cx="137.7" cy="425.0" r="2.1"/><circle cx="141.1" cy="427.2" r="2.1"/><circle cx="144.9" cy="425.5" r="2.1"/><circle cx="147.7" cy="421.6" r="2.1"/><circle cx="150.5" cy="423.3" r="2.1"/><circle cx="153.8" cy="420.5" r="2.1"/><circle cx="156.0" cy="422.2" r="2.1"/><circle cx="153.3" cy="425.5" r="2.1"/><circle cx="148.8" cy="427.2" r="2.1"/><circle cx="113.9" cy="426.1" r="2.1"/><circle cx="108.3" cy="428.3" r="2.1"/><circle cx="111.6" cy="430.5" r="2.1"/><circle cx="103.9" cy="432.5" r="2.1"/><circle cx="119.4" cy="430.0" r="2.1"/><circle cx="122.7" cy="432.7" r="2.1"/><circle cx="122.2" cy="427.2" r="2.1"/><circle cx="128.8" cy="431.6" r="2.1"/><circle cx="134.4" cy="430.0" r="2.1"/><circle cx="132.7" cy="433.8" r="2.1"/><circle cx="138.8" cy="429.4" r="2.1"/><circle cx="143.3" cy="430.5" r="2.1"/><circle cx="146.6" cy="428.9" r="2.1"/><circle cx="152.7" cy="430.0" r="2.1"/><circle cx="150.5" cy="432.7" r="2.1"/><circle cx="147.7" cy="435.5" r="2.1"/><circle cx="154.4" cy="433.8" r="2.1"/><circle cx="156.6" cy="437.2" r="2.1"/><circle cx="152.2" cy="437.7" r="2.1"/><circle cx="146.6" cy="437.7" r="2.1"/><circle cx="147.2" cy="442.2" r="2.1"/><circle cx="148.3" cy="444.9" r="2.1"/><circle cx="136.6" cy="437.7" r="2.1"/><circle cx="139.4" cy="440.0" r="2.1"/><circle cx="134.4" cy="440.5" r="2.1"/><circle cx="132.7" cy="442.2" r="2.1"/><circle cx="132.2" cy="444.4" r="2.1"/><circle cx="132.7" cy="446.6" r="2.1"/><circle cx="105.0" cy="446.4" r="2.1"/><circle cx="161.6" cy="433.8" r="2.1"/><circle cx="162.1" cy="424.1" r="2.1"/><circle cx="161.0" cy="442.7" r="2.1"/><circle cx="158.8" cy="445.5" r="2.1"/><circle cx="161.9" cy="447.2" r="2.1"/><circle cx="168.2" cy="446.3" r="2.1"/><circle cx="169.4" cy="420.0" r="2.1"/><circle cx="167.7" cy="428.9" r="2.1"/><circle cx="169.9" cy="436.1" r="2.1"/><circle cx="204.9" cy="402.5" r="2.1"/><circle cx="191.1" cy="415.3" r="2.1"/><circle cx="236.8" cy="422.0" r="2.1"/><circle cx="205.7" cy="425.9" r="2.1"/><circle cx="214.6" cy="425.0" r="2.1"/><circle cx="226.8" cy="428.3" r="2.1"/><circle cx="171.9" cy="430.3" r="2.1"/><circle cx="195.7" cy="429.2" r="2.1"/><circle cx="203.3" cy="430.7" r="2.1"/><circle cx="222.2" cy="433.8" r="2.1"/><circle cx="179.6" cy="433.3" r="2.1"/><circle cx="173.0" cy="438.3" r="2.1"/><circle cx="174.6" cy="441.6" r="2.1"/><circle cx="200.7" cy="436.4" r="2.1"/><circle cx="206.8" cy="435.5" r="2.1"/><circle cx="188.0" cy="438.8" r="2.1"/><circle cx="192.4" cy="440.0" r="2.1"/><circle cx="194.6" cy="442.7" r="2.1"/><circle cx="212.4" cy="440.0" r="2.1"/><circle cx="218.5" cy="441.6" r="2.1"/><circle cx="229.9" cy="442.7" r="2.1"/><circle cx="226.0" cy="445.7" r="2.1"/><circle cx="214.6" cy="443.8" r="2.1"/><circle cx="175.2" cy="448.1" r="2.1"/><circle cx="184.6" cy="446.1" r="2.1"/><circle cx="185.2" cy="448.3" r="2.1"/><circle cx="193.5" cy="445.5" r="2.1"/><circle cx="191.9" cy="448.8" r="2.1"/><circle cx="195.7" cy="450.5" r="2.1"/><circle cx="195.7" cy="452.7" r="2.1"/><circle cx="173.0" cy="452.7" r="2.1"/><circle cx="209.9" cy="451.4" r="2.1"/><circle cx="215.9" cy="449.7" r="2.1"/><circle cx="225.7" cy="449.9" r="2.1"/><circle cx="183.5" cy="455.8" r="2.1"/><circle cx="199.1" cy="457.2" r="2.1"/><circle cx="203.0" cy="458.8" r="2.1"/><circle cx="136.1" cy="472.0" r="2.1"/><circle cx="180.0" cy="473.4" r="2.1"/><circle cx="169.2" cy="480.9" r="2.1"/><circle cx="200.7" cy="469.5" r="2.1"/><circle cx="204.3" cy="469.8" r="2.1"/><circle cx="195.7" cy="479.4" r="2.1"/><circle cx="196.0" cy="483.9" r="2.1"/><circle cx="208.3" cy="484.4" r="2.1"/><circle cx="220.3" cy="482.7" r="2.1"/><circle cx="162.1" cy="501.8" r="2.1"/><circle cx="206.6" cy="364.5" r="2.1"/><circle cx="248.2" cy="451.2" r="2.1"/><circle cx="238.5" cy="471.8" r="2.1"/><circle cx="223.0" cy="485.9" r="2.1"/><circle cx="227.9" cy="479.6" r="2.1"/><circle cx="230.2" cy="480.9" r="2.1"/><circle cx="225.8" cy="497.6" r="2.1"/><circle cx="131.8" cy="418.8" r="2.1"/><circle cx="121.9" cy="418.1" r="2.1"/><circle cx="137.4" cy="423.0" r="2.1"/><circle cx="115.6" cy="421.6" r="2.1"/><circle cx="131.1" cy="427.2" r="2.1"/></g><g fill="#b3181a"><circle cx="165.5" cy="421.4" r="2.6"/><circle cx="163.0" cy="427.5" r="2.6"/><circle cx="165.2" cy="437.7" r="2.6"/><circle cx="187.1" cy="415.0" r="2.6"/><circle cx="175.2" cy="422.7" r="2.6"/><circle cx="178.5" cy="422.5" r="2.6"/><circle cx="180.2" cy="423.3" r="2.6"/><circle cx="185.7" cy="421.6" r="2.6"/><circle cx="188.2" cy="420.5" r="2.6"/><circle cx="190.7" cy="425.2" r="2.6"/><circle cx="186.3" cy="427.2" r="2.6"/><circle cx="184.1" cy="430.0" r="2.6"/><circle cx="187.4" cy="430.0" r="2.6"/><circle cx="190.7" cy="429.4" r="2.6"/><circle cx="193.0" cy="431.1" r="2.6"/><circle cx="183.5" cy="433.3" r="2.6"/><circle cx="188.0" cy="433.3" r="2.6"/><circle cx="192.4" cy="434.4" r="2.6"/><circle cx="199.6" cy="430.8" r="2.6"/><circle cx="181.6" cy="442.2" r="2.6"/><circle cx="187.7" cy="446.3" r="2.6"/><circle cx="186.3" cy="453.6" r="2.6"/><circle cx="190.7" cy="459.2" r="2.6"/></g><line x1="59.7" y1="418.3" x2="281.4" y2="418.3" stroke="#454545" stroke-width="1.5" stroke-dasharray="5.1 2.9" stroke-dashoffset="3.2"/><line x1="59.7" y1="401.1" x2="281.3" y2="463.3" stroke="#000" stroke-width="1.6"/></g><g clip-path="url(#c4)"><linearGradient id="g4" gradientUnits="userSpaceOnUse" x1="281.4" y1="0" x2="503.1" y2="0"><stop offset="0.0000" stop-color="#c0c0c0" stop-opacity="0.500"/><stop offset="0.0417" stop-color="#c0c0c0" stop-opacity="0.485"/><stop offset="0.0833" stop-color="#c0c0c0" stop-opacity="0.470"/><stop offset="0.1250" stop-color="#c0c0c0" stop-opacity="0.455"/><stop offset="0.1667" stop-color="#c0c0c0" stop-opacity="0.436"/><stop offset="0.2083" stop-color="#c0c0c0" stop-opacity="0.416"/><stop offset="0.2500" stop-color="#c0c0c0" stop-opacity="0.400"/><stop offset="0.2917" stop-color="#c0c0c0" stop-opacity="0.400"/><stop offset="0.3333" stop-color="#c0c0c0" stop-opacity="0.400"/><stop offset="0.3750" stop-color="#c0c0c0" stop-opacity="0.400"/><stop offset="0.4167" stop-color="#c0c0c0" stop-opacity="0.400"/><stop offset="0.4583" stop-color="#c0c0c0" stop-opacity="0.420"/><stop offset="0.5000" stop-color="#c0c0c0" stop-opacity="0.482"/><stop offset="0.5417" stop-color="#c0c0c0" stop-opacity="0.543"/><stop offset="0.5833" stop-color="#c0c0c0" stop-opacity="0.604"/><stop offset="0.6250" stop-color="#c0c0c0" stop-opacity="0.660"/><stop offset="0.6667" stop-color="#c0c0c0" stop-opacity="0.715"/><stop offset="0.7083" stop-color="#c0c0c0" stop-opacity="0.756"/><stop offset="0.7500" stop-color="#c0c0c0" stop-opacity="0.771"/><stop offset="0.7917" stop-color="#c0c0c0" stop-opacity="0.787"/><stop offset="0.8333" stop-color="#c0c0c0" stop-opacity="0.800"/><stop offset="0.8750" stop-color="#c0c0c0" stop-opacity="0.800"/><stop offset="0.9167" stop-color="#c0c0c0" stop-opacity="0.800"/><stop offset="0.9583" stop-color="#c0c0c0" stop-opacity="0.800"/><stop offset="1.0000" stop-color="#c0c0c0" stop-opacity="0.800"/></linearGradient><polygon fill="url(#g4)" points="281.4,400.0 290.6,403.0 299.9,406.1 309.1,409.1 318.3,412.1 327.6,415.3 336.8,418.4 346.1,421.4 355.3,424.5 364.5,427.2 373.8,429.9 383.0,432.5 392.2,434.8 401.5,437.2 410.7,439.5 420.0,441.5 429.2,443.6 438.4,445.7 447.7,447.9 456.9,450.1 466.1,452.2 475.4,454.4 484.6,456.5 493.9,458.7 503.1,460.9 503.1,478.0 493.9,474.8 484.6,471.5 475.4,468.2 466.1,465.0 456.9,461.7 447.7,458.5 438.4,455.3 429.2,452.0 420.0,448.6 410.7,445.2 401.5,442.1 392.2,439.0 383.0,435.9 373.8,433.1 364.5,430.4 355.3,427.7 346.1,425.3 336.8,423.0 327.6,420.7 318.3,418.4 309.1,416.0 299.9,413.6 290.6,411.2 281.4,408.8"/><g fill="#6583ae" stroke="#4f6e9e" stroke-width="0.5"><circle cx="307.8" cy="339.8" r="2.1"/><circle cx="349.5" cy="362.0" r="2.1"/><circle cx="381.8" cy="367.0" r="2.1"/><circle cx="339.3" cy="373.6" r="2.1"/><circle cx="341.4" cy="382.9" r="2.1"/><circle cx="342.1" cy="389.2" r="2.1"/><circle cx="328.5" cy="392.3" r="2.1"/><circle cx="397.1" cy="391.6" r="2.1"/><circle cx="308.1" cy="397.1" r="2.1"/><circle cx="326.5" cy="397.9" r="2.1"/><circle cx="334.6" cy="398.8" r="2.1"/><circle cx="356.3" cy="399.4" r="2.1"/><circle cx="328.5" cy="402.2" r="2.1"/><circle cx="345.9" cy="403.4" r="2.1"/><circle cx="364.6" cy="402.9" r="2.1"/><circle cx="325.5" cy="405.5" r="2.1"/><circle cx="349.9" cy="405.5" r="2.1"/><circle cx="355.7" cy="406.0" r="2.1"/><circle cx="362.8" cy="406.3" r="2.1"/><circle cx="445.2" cy="341.3" r="2.1"/><circle cx="340.3" cy="408.3" r="2.1"/><circle cx="352.7" cy="408.1" r="2.1"/><circle cx="348.3" cy="409.4" r="2.1"/><circle cx="334.4" cy="410.0" r="2.1"/><circle cx="337.7" cy="410.5" r="2.1"/><circle cx="328.3" cy="411.6" r="2.1"/><circle cx="325.0" cy="414.1" r="2.1"/><circle cx="335.5" cy="412.8" r="2.1"/><circle cx="340.5" cy="412.8" r="2.1"/><circle cx="345.5" cy="413.9" r="2.1"/><circle cx="357.7" cy="412.8" r="2.1"/><circle cx="331.1" cy="416.1" r="2.1"/><circle cx="338.8" cy="415.5" r="2.1"/><circle cx="333.3" cy="418.3" r="2.1"/><circle cx="343.3" cy="417.8" r="2.1"/><circle cx="351.0" cy="417.2" r="2.1"/><circle cx="357.7" cy="416.6" r="2.1"/><circle cx="313.3" cy="419.6" r="2.1"/><circle cx="318.3" cy="420.5" r="2.1"/><circle cx="300.5" cy="422.0" r="2.1"/><circle cx="323.8" cy="421.6" r="2.1"/><circle cx="327.7" cy="421.1" r="2.1"/><circle cx="332.2" cy="421.6" r="2.1"/><circle cx="321.6" cy="424.1" r="2.1"/><circle cx="325.5" cy="424.4" r="2.1"/><circle cx="315.5" cy="425.5" r="2.1"/><circle cx="323.8" cy="427.2" r="2.1"/><circle cx="298.5" cy="426.9" r="2.1"/><circle cx="336.6" cy="422.7" r="2.1"/><circle cx="341.6" cy="422.7" r="2.1"/><circle cx="346.6" cy="422.2" r="2.1"/><circle cx="352.1" cy="421.6" r="2.1"/><circle cx="334.4" cy="426.6" r="2.1"/><circle cx="337.7" cy="425.5" r="2.1"/><circle cx="344.4" cy="426.1" r="2.1"/><circle cx="348.8" cy="425.0" r="2.1"/><circle cx="353.8" cy="425.5" r="2.1"/><circle cx="357.7" cy="423.9" r="2.1"/><circle cx="336.6" cy="430.0" r="2.1"/><circle cx="335.5" cy="428.3" r="2.1"/><circle cx="345.5" cy="429.4" r="2.1"/><circle cx="349.9" cy="428.3" r="2.1"/><circle cx="354.4" cy="428.9" r="2.1"/><circle cx="339.9" cy="433.3" r="2.1"/><circle cx="343.8" cy="433.8" r="2.1"/><circle cx="348.8" cy="431.1" r="2.1"/><circle cx="309.2" cy="431.1" r="2.1"/><circle cx="313.6" cy="432.4" r="2.1"/><circle cx="319.7" cy="435.8" r="2.1"/><circle cx="309.6" cy="439.1" r="2.1"/><circle cx="346.0" cy="439.7" r="2.1"/><circle cx="356.6" cy="433.8" r="2.1"/><circle cx="359.4" cy="431.1" r="2.1"/><circle cx="357.1" cy="441.1" r="2.1"/><circle cx="358.8" cy="443.8" r="2.1"/><circle cx="293.9" cy="445.8" r="2.1"/><circle cx="351.9" cy="450.3" r="2.1"/><circle cx="349.0" cy="455.2" r="2.1"/><circle cx="371.6" cy="408.3" r="2.1"/><circle cx="364.4" cy="409.4" r="2.1"/><circle cx="368.1" cy="411.9" r="2.1"/><circle cx="383.3" cy="410.9" r="2.1"/><circle cx="365.0" cy="412.8" r="2.1"/><circle cx="374.4" cy="413.9" r="2.1"/><circle cx="367.8" cy="415.0" r="2.1"/><circle cx="361.7" cy="416.6" r="2.1"/><circle cx="412.9" cy="414.1" r="2.1"/><circle cx="370.5" cy="418.3" r="2.1"/><circle cx="360.5" cy="421.6" r="2.1"/><circle cx="387.2" cy="419.6" r="2.1"/><circle cx="395.0" cy="422.7" r="2.1"/><circle cx="433.2" cy="423.6" r="2.1"/><circle cx="366.1" cy="425.0" r="2.1"/><circle cx="372.2" cy="424.1" r="2.1"/><circle cx="386.1" cy="425.0" r="2.1"/><circle cx="390.5" cy="425.2" r="2.1"/><circle cx="407.2" cy="425.5" r="2.1"/><circle cx="422.9" cy="427.7" r="2.1"/><circle cx="378.3" cy="427.7" r="2.1"/><circle cx="375.5" cy="428.9" r="2.1"/><circle cx="400.3" cy="430.0" r="2.1"/><circle cx="404.4" cy="431.1" r="2.1"/><circle cx="367.2" cy="432.2" r="2.1"/><circle cx="382.2" cy="432.2" r="2.1"/><circle cx="375.0" cy="433.8" r="2.1"/><circle cx="378.3" cy="435.5" r="2.1"/><circle cx="383.3" cy="435.0" r="2.1"/><circle cx="366.1" cy="436.6" r="2.1"/><circle cx="369.4" cy="436.6" r="2.1"/><circle cx="357.2" cy="437.7" r="2.1"/><circle cx="387.7" cy="437.7" r="2.1"/><circle cx="388.3" cy="440.5" r="2.1"/><circle cx="399.4" cy="440.0" r="2.1"/><circle cx="404.9" cy="441.8" r="2.1"/><circle cx="377.8" cy="441.6" r="2.1"/><circle cx="383.9" cy="442.7" r="2.1"/><circle cx="389.4" cy="442.9" r="2.1"/><circle cx="365.5" cy="445.5" r="2.1"/><circle cx="408.3" cy="446.1" r="2.1"/><circle cx="376.6" cy="448.8" r="2.1"/><circle cx="375.5" cy="450.5" r="2.1"/><circle cx="404.9" cy="449.6" r="2.1"/><circle cx="409.9" cy="449.6" r="2.1"/><circle cx="372.2" cy="452.2" r="2.1"/><circle cx="371.1" cy="453.8" r="2.1"/><circle cx="420.5" cy="452.7" r="2.1"/><circle cx="391.1" cy="455.5" r="2.1"/><circle cx="389.4" cy="457.7" r="2.1"/><circle cx="431.6" cy="449.4" r="2.1"/><circle cx="434.4" cy="446.6" r="2.1"/><circle cx="442.8" cy="431.6" r="2.1"/><circle cx="450.2" cy="433.8" r="2.1"/><circle cx="445.2" cy="443.5" r="2.1"/><circle cx="468.0" cy="444.4" r="2.1"/><circle cx="440.8" cy="452.7" r="2.1"/><circle cx="444.6" cy="454.4" r="2.1"/><circle cx="448.5" cy="452.9" r="2.1"/><circle cx="450.8" cy="457.2" r="2.1"/><circle cx="438.5" cy="458.8" r="2.1"/><circle cx="344.6" cy="462.1" r="2.1"/><circle cx="370.9" cy="460.2" r="2.1"/><circle cx="381.8" cy="463.5" r="2.1"/><circle cx="392.9" cy="460.2" r="2.1"/><circle cx="441.3" cy="459.4" r="2.1"/><circle cx="415.8" cy="465.4" r="2.1"/><circle cx="418.9" cy="467.4" r="2.1"/><circle cx="430.5" cy="471.2" r="2.1"/><circle cx="406.2" cy="473.5" r="2.1"/><circle cx="400.7" cy="479.4" r="2.1"/><circle cx="409.6" cy="481.4" r="2.1"/><circle cx="460.6" cy="462.6" r="2.1"/><circle cx="340.4" cy="426.5" r="2.1"/><circle cx="338.3" cy="430.1" r="2.1"/><circle cx="343.2" cy="432.2" r="2.1"/><circle cx="348.2" cy="427.2" r="2.1"/><circle cx="341.1" cy="434.3" r="2.1"/><circle cx="336.9" cy="432.2" r="2.1"/><circle cx="351.7" cy="428.6" r="2.1"/><circle cx="356.6" cy="420.9" r="2.1"/><circle cx="353.1" cy="420.2" r="2.1"/><circle cx="330.6" cy="420.2" r="2.1"/><circle cx="324.2" cy="425.1" r="2.1"/></g><g fill="#b3181a"><circle cx="353.6" cy="414.8" r="2.6"/><circle cx="395.2" cy="413.1" r="2.6"/><circle cx="374.4" cy="424.7" r="2.6"/><circle cx="383.3" cy="426.1" r="2.6"/><circle cx="388.9" cy="427.0" r="2.6"/><circle cx="387.2" cy="429.6" r="2.6"/><circle cx="370.5" cy="430.0" r="2.6"/><circle cx="378.1" cy="431.4" r="2.6"/><circle cx="371.1" cy="433.8" r="2.6"/><circle cx="401.1" cy="420.0" r="2.6"/><circle cx="404.9" cy="419.6" r="2.6"/><circle cx="397.7" cy="424.1" r="2.6"/><circle cx="401.6" cy="425.5" r="2.6"/><circle cx="404.4" cy="424.7" r="2.6"/><circle cx="413.3" cy="426.1" r="2.6"/><circle cx="419.4" cy="427.0" r="2.6"/><circle cx="417.7" cy="430.5" r="2.6"/><circle cx="411.6" cy="434.4" r="2.6"/><circle cx="403.3" cy="437.2" r="2.6"/><circle cx="393.3" cy="440.0" r="2.6"/><circle cx="410.5" cy="437.7" r="2.6"/><circle cx="416.6" cy="436.6" r="2.6"/><circle cx="414.9" cy="439.4" r="2.6"/><circle cx="381.6" cy="441.6" r="2.6"/><circle cx="373.3" cy="445.2" r="2.6"/><circle cx="393.3" cy="444.7" r="2.6"/><circle cx="421.6" cy="448.8" r="2.6"/><circle cx="396.1" cy="457.5" r="2.6"/><circle cx="404.4" cy="458.3" r="2.6"/><circle cx="429.0" cy="468.0" r="2.6"/><circle cx="388.1" cy="498.5" r="2.6"/></g><line x1="281.4" y1="418.3" x2="503.1" y2="418.3" stroke="#454545" stroke-width="1.5" stroke-dasharray="5.1 2.9" stroke-dashoffset="7.2"/><line x1="281.3" y1="404.4" x2="503.3" y2="469.5" stroke="#000" stroke-width="1.6"/></g><g clip-path="url(#c5)"><linearGradient id="g5" gradientUnits="userSpaceOnUse" x1="503.1" y1="0" x2="724.5" y2="0"><stop offset="0.0000" stop-color="#c0c0c0" stop-opacity="0.400"/><stop offset="0.0417" stop-color="#c0c0c0" stop-opacity="0.400"/><stop offset="0.0833" stop-color="#c0c0c0" stop-opacity="0.400"/><stop offset="0.1250" stop-color="#c0c0c0" stop-opacity="0.400"/><stop offset="0.1667" stop-color="#c0c0c0" stop-opacity="0.400"/><stop offset="0.2083" stop-color="#c0c0c0" stop-opacity="0.400"/><stop offset="0.2500" stop-color="#c0c0c0" stop-opacity="0.400"/><stop offset="0.2917" stop-color="#c0c0c0" stop-opacity="0.400"/><stop offset="0.3333" stop-color="#c0c0c0" stop-opacity="0.423"/><stop offset="0.3750" stop-color="#c0c0c0" stop-opacity="0.454"/><stop offset="0.4167" stop-color="#c0c0c0" stop-opacity="0.485"/><stop offset="0.4583" stop-color="#c0c0c0" stop-opacity="0.520"/><stop offset="0.5000" stop-color="#c0c0c0" stop-opacity="0.561"/><stop offset="0.5417" stop-color="#c0c0c0" stop-opacity="0.602"/><stop offset="0.5833" stop-color="#c0c0c0" stop-opacity="0.643"/><stop offset="0.6250" stop-color="#c0c0c0" stop-opacity="0.684"/><stop offset="0.6667" stop-color="#c0c0c0" stop-opacity="0.710"/><stop offset="0.7083" stop-color="#c0c0c0" stop-opacity="0.727"/><stop offset="0.7500" stop-color="#c0c0c0" stop-opacity="0.743"/><stop offset="0.7917" stop-color="#c0c0c0" stop-opacity="0.759"/><stop offset="0.8333" stop-color="#c0c0c0" stop-opacity="0.776"/><stop offset="0.8750" stop-color="#c0c0c0" stop-opacity="0.784"/><stop offset="0.9167" stop-color="#c0c0c0" stop-opacity="0.789"/><stop offset="0.9583" stop-color="#c0c0c0" stop-opacity="0.795"/><stop offset="1.0000" stop-color="#c0c0c0" stop-opacity="0.800"/></linearGradient><polygon fill="url(#g5)" points="503.1,409.3 512.3,411.2 521.6,413.1 530.8,415.0 540.0,416.9 549.2,418.6 558.5,420.3 567.7,422.1 576.9,423.5 586.1,424.9 595.4,426.2 604.6,427.4 613.8,428.4 623.0,429.4 632.2,430.4 641.5,431.4 650.7,432.5 659.9,433.7 669.1,435.0 678.4,436.2 687.6,437.5 696.8,438.7 706.0,439.9 715.3,441.2 724.5,442.4 724.5,454.8 715.3,453.0 706.0,451.3 696.8,449.5 687.6,447.7 678.4,445.9 669.1,444.2 659.9,442.4 650.7,440.6 641.5,438.8 632.2,436.7 623.0,434.7 613.8,432.7 604.6,430.7 595.4,428.9 586.1,427.2 576.9,425.5 567.7,424.0 558.5,422.7 549.2,421.4 540.0,420.1 530.8,419.0 521.6,417.9 512.3,416.8 503.1,415.7"/><g fill="#6583ae" stroke="#4f6e9e" stroke-width="0.5"><circle cx="572.2" cy="322.4" r="2.1"/><circle cx="553.8" cy="327.7" r="2.1"/><circle cx="549.8" cy="351.9" r="2.1"/><circle cx="612.4" cy="355.9" r="2.1"/><circle cx="608.1" cy="370.8" r="2.1"/><circle cx="622.0" cy="372.4" r="2.1"/><circle cx="527.7" cy="394.9" r="2.1"/><circle cx="548.4" cy="397.1" r="2.1"/><circle cx="551.0" cy="396.3" r="2.1"/><circle cx="554.5" cy="395.8" r="2.1"/><circle cx="559.1" cy="395.8" r="2.1"/><circle cx="573.9" cy="395.3" r="2.1"/><circle cx="578.3" cy="398.1" r="2.1"/><circle cx="508.3" cy="403.9" r="2.1"/><circle cx="548.7" cy="402.6" r="2.1"/><circle cx="571.7" cy="403.4" r="2.1"/><circle cx="602.5" cy="404.4" r="2.1"/><circle cx="521.8" cy="406.4" r="2.1"/><circle cx="540.9" cy="406.6" r="2.1"/><circle cx="551.0" cy="407.0" r="2.1"/><circle cx="563.5" cy="406.7" r="2.1"/><circle cx="623.0" cy="404.1" r="2.1"/><circle cx="523.6" cy="407.8" r="2.1"/><circle cx="533.4" cy="407.5" r="2.1"/><circle cx="539.2" cy="408.3" r="2.1"/><circle cx="542.8" cy="410.0" r="2.1"/><circle cx="549.2" cy="408.3" r="2.1"/><circle cx="559.7" cy="408.3" r="2.1"/><circle cx="556.1" cy="410.0" r="2.1"/><circle cx="570.3" cy="410.3" r="2.1"/><circle cx="561.9" cy="411.1" r="2.1"/><circle cx="564.2" cy="413.3" r="2.1"/><circle cx="566.4" cy="415.0" r="2.1"/><circle cx="515.9" cy="412.5" r="2.1"/><circle cx="524.8" cy="414.6" r="2.1"/><circle cx="528.3" cy="413.9" r="2.1"/><circle cx="533.1" cy="412.8" r="2.1"/><circle cx="537.5" cy="413.9" r="2.1"/><circle cx="535.3" cy="416.1" r="2.1"/><circle cx="539.2" cy="416.6" r="2.1"/><circle cx="510.3" cy="416.6" r="2.1"/><circle cx="513.1" cy="419.1" r="2.1"/><circle cx="525.3" cy="420.5" r="2.1"/><circle cx="523.6" cy="423.0" r="2.1"/><circle cx="546.4" cy="416.6" r="2.1"/><circle cx="552.5" cy="415.0" r="2.1"/><circle cx="554.7" cy="416.1" r="2.1"/><circle cx="557.5" cy="417.2" r="2.1"/><circle cx="561.9" cy="418.3" r="2.1"/><circle cx="565.8" cy="418.9" r="2.1"/><circle cx="571.9" cy="418.9" r="2.1"/><circle cx="576.1" cy="416.6" r="2.1"/><circle cx="580.8" cy="419.1" r="2.1"/><circle cx="545.8" cy="421.6" r="2.1"/><circle cx="548.6" cy="423.3" r="2.1"/><circle cx="551.9" cy="424.4" r="2.1"/><circle cx="555.3" cy="423.3" r="2.1"/><circle cx="558.0" cy="425.0" r="2.1"/><circle cx="563.0" cy="424.4" r="2.1"/><circle cx="562.5" cy="426.6" r="2.1"/><circle cx="567.5" cy="428.8" r="2.1"/><circle cx="554.2" cy="427.2" r="2.1"/><circle cx="556.9" cy="428.8" r="2.1"/><circle cx="543.1" cy="426.4" r="2.1"/><circle cx="520.0" cy="429.4" r="2.1"/><circle cx="538.8" cy="431.1" r="2.1"/><circle cx="532.0" cy="432.2" r="2.1"/><circle cx="533.6" cy="433.8" r="2.1"/><circle cx="546.1" cy="433.3" r="2.1"/><circle cx="551.4" cy="431.6" r="2.1"/><circle cx="556.9" cy="432.2" r="2.1"/><circle cx="559.7" cy="434.4" r="2.1"/><circle cx="571.9" cy="432.2" r="2.1"/><circle cx="566.9" cy="433.3" r="2.1"/><circle cx="569.7" cy="434.9" r="2.1"/><circle cx="577.8" cy="432.7" r="2.1"/><circle cx="540.6" cy="440.3" r="2.1"/><circle cx="549.2" cy="439.9" r="2.1"/><circle cx="551.9" cy="442.2" r="2.1"/><circle cx="549.7" cy="444.4" r="2.1"/><circle cx="548.1" cy="444.9" r="2.1"/><circle cx="543.3" cy="446.3" r="2.1"/><circle cx="563.0" cy="440.5" r="2.1"/><circle cx="568.3" cy="441.3" r="2.1"/><circle cx="573.0" cy="441.1" r="2.1"/><circle cx="563.0" cy="446.0" r="2.1"/><circle cx="560.3" cy="449.9" r="2.1"/><circle cx="521.8" cy="452.6" r="2.1"/><circle cx="568.8" cy="454.2" r="2.1"/><circle cx="603.2" cy="410.0" r="2.1"/><circle cx="584.3" cy="409.4" r="2.1"/><circle cx="587.4" cy="409.4" r="2.1"/><circle cx="592.6" cy="413.6" r="2.1"/><circle cx="586.8" cy="414.4" r="2.1"/><circle cx="592.1" cy="416.1" r="2.1"/><circle cx="649.8" cy="415.5" r="2.1"/><circle cx="599.0" cy="420.7" r="2.1"/><circle cx="605.4" cy="420.2" r="2.1"/><circle cx="594.3" cy="422.0" r="2.1"/><circle cx="592.6" cy="424.2" r="2.1"/><circle cx="578.8" cy="424.4" r="2.1"/><circle cx="582.4" cy="426.4" r="2.1"/><circle cx="622.6" cy="422.0" r="2.1"/><circle cx="621.5" cy="425.7" r="2.1"/><circle cx="654.2" cy="425.3" r="2.1"/><circle cx="593.5" cy="429.4" r="2.1"/><circle cx="603.7" cy="431.1" r="2.1"/><circle cx="640.4" cy="432.7" r="2.1"/><circle cx="587.4" cy="434.9" r="2.1"/><circle cx="584.9" cy="437.2" r="2.1"/><circle cx="592.6" cy="437.4" r="2.1"/><circle cx="592.4" cy="439.9" r="2.1"/><circle cx="598.2" cy="439.2" r="2.1"/><circle cx="608.7" cy="436.6" r="2.1"/><circle cx="624.8" cy="437.7" r="2.1"/><circle cx="599.0" cy="444.6" r="2.1"/><circle cx="633.5" cy="446.9" r="2.1"/><circle cx="654.0" cy="444.9" r="2.1"/><circle cx="667.4" cy="401.4" r="2.1"/><circle cx="691.6" cy="421.0" r="2.1"/><circle cx="682.0" cy="434.2" r="2.1"/><circle cx="690.5" cy="437.7" r="2.1"/><circle cx="680.2" cy="458.8" r="2.1"/><circle cx="690.0" cy="464.9" r="2.1"/><circle cx="550.0" cy="441.7" r="2.1"/><circle cx="569.4" cy="459.2" r="2.1"/><circle cx="555.8" cy="469.0" r="2.1"/><circle cx="552.8" cy="480.7" r="2.1"/><circle cx="604.3" cy="457.1" r="2.1"/><circle cx="606.8" cy="455.7" r="2.1"/><circle cx="603.0" cy="468.3" r="2.1"/><circle cx="617.7" cy="462.8" r="2.1"/><circle cx="589.7" cy="494.0" r="2.1"/><circle cx="646.2" cy="474.6" r="2.1"/><circle cx="634.0" cy="477.9" r="2.1"/></g><g fill="#b3181a"><circle cx="576.1" cy="435.3" r="2.6"/><circle cx="628.2" cy="413.6" r="2.6"/><circle cx="614.8" cy="422.2" r="2.6"/><circle cx="610.6" cy="425.5" r="2.6"/><circle cx="597.6" cy="431.1" r="2.6"/><circle cx="627.3" cy="432.4" r="2.6"/><circle cx="603.2" cy="434.4" r="2.6"/><circle cx="605.4" cy="435.3" r="2.6"/><circle cx="605.7" cy="450.1" r="2.6"/><circle cx="633.8" cy="455.1" r="2.6"/><circle cx="635.4" cy="456.0" r="2.6"/><circle cx="617.7" cy="467.0" r="2.6"/><circle cx="608.5" cy="478.6" r="2.6"/><circle cx="585.3" cy="495.6" r="2.6"/></g><line x1="503.1" y1="418.3" x2="724.5" y2="418.3" stroke="#454545" stroke-width="1.5" stroke-dasharray="5.1 2.9" stroke-dashoffset="1.9"/><line x1="503.3" y1="412.5" x2="724.4" y2="448.6" stroke="#000" stroke-width="1.6"/></g><rect x="59.7" y="17.5" width="664.8" height="220.4" fill="none" stroke="#262626" stroke-width="1.35"/><line x1="281.4" y1="17.5" x2="281.4" y2="237.9" stroke="#262626" stroke-width="1.35"/><line x1="503.1" y1="17.5" x2="503.1" y2="237.9" stroke="#262626" stroke-width="1.35"/><line x1="59.7" y1="46.5" x2="65.3" y2="46.5" stroke="#262626" stroke-width="1.1"/><line x1="59.7" y1="85.2" x2="65.3" y2="85.2" stroke="#262626" stroke-width="1.1"/><line x1="59.7" y1="123.9" x2="65.3" y2="123.9" stroke="#262626" stroke-width="1.1"/><line x1="59.7" y1="162.4" x2="65.3" y2="162.4" stroke="#262626" stroke-width="1.1"/><line x1="59.7" y1="201.1" x2="65.3" y2="201.1" stroke="#262626" stroke-width="1.1"/><line x1="67.6" y1="237.9" x2="67.6" y2="232.3" stroke="#262626" stroke-width="1.1"/><line x1="149.7" y1="237.9" x2="149.7" y2="232.3" stroke="#262626" stroke-width="1.1"/><line x1="231.8" y1="237.9" x2="231.8" y2="232.3" stroke="#262626" stroke-width="1.1"/><line x1="281.4" y1="46.5" x2="287.0" y2="46.5" stroke="#262626" stroke-width="1.1"/><line x1="281.4" y1="85.2" x2="287.0" y2="85.2" stroke="#262626" stroke-width="1.1"/><line x1="281.4" y1="123.9" x2="287.0" y2="123.9" stroke="#262626" stroke-width="1.1"/><line x1="281.4" y1="162.4" x2="287.0" y2="162.4" stroke="#262626" stroke-width="1.1"/><line x1="281.4" y1="201.1" x2="287.0" y2="201.1" stroke="#262626" stroke-width="1.1"/><line x1="289.3" y1="237.9" x2="289.3" y2="232.3" stroke="#262626" stroke-width="1.1"/><line x1="371.4" y1="237.9" x2="371.4" y2="232.3" stroke="#262626" stroke-width="1.1"/><line x1="453.5" y1="237.9" x2="453.5" y2="232.3" stroke="#262626" stroke-width="1.1"/><line x1="503.1" y1="46.5" x2="508.70000000000005" y2="46.5" stroke="#262626" stroke-width="1.1"/><line x1="503.1" y1="85.2" x2="508.70000000000005" y2="85.2" stroke="#262626" stroke-width="1.1"/><line x1="503.1" y1="123.9" x2="508.70000000000005" y2="123.9" stroke="#262626" stroke-width="1.1"/><line x1="503.1" y1="162.4" x2="508.70000000000005" y2="162.4" stroke="#262626" stroke-width="1.1"/><line x1="503.1" y1="201.1" x2="508.70000000000005" y2="201.1" stroke="#262626" stroke-width="1.1"/><line x1="511.0" y1="237.9" x2="511.0" y2="232.3" stroke="#262626" stroke-width="1.1"/><line x1="593.1" y1="237.9" x2="593.1" y2="232.3" stroke="#262626" stroke-width="1.1"/><line x1="675.2" y1="237.9" x2="675.2" y2="232.3" stroke="#262626" stroke-width="1.1"/><rect x="59.7" y="312.0" width="664.8" height="220.2" fill="none" stroke="#262626" stroke-width="1.35"/><line x1="281.4" y1="312.0" x2="281.4" y2="532.2" stroke="#262626" stroke-width="1.35"/><line x1="503.1" y1="312.0" x2="503.1" y2="532.2" stroke="#262626" stroke-width="1.35"/><line x1="59.7" y1="341.3" x2="65.3" y2="341.3" stroke="#262626" stroke-width="1.1"/><line x1="59.7" y1="379.8" x2="65.3" y2="379.8" stroke="#262626" stroke-width="1.1"/><line x1="59.7" y1="418.3" x2="65.3" y2="418.3" stroke="#262626" stroke-width="1.1"/><line x1="59.7" y1="456.8" x2="65.3" y2="456.8" stroke="#262626" stroke-width="1.1"/><line x1="59.7" y1="495.3" x2="65.3" y2="495.3" stroke="#262626" stroke-width="1.1"/><line x1="96.5" y1="532.2" x2="96.5" y2="526.6" stroke="#262626" stroke-width="1.1"/><line x1="170.3" y1="532.2" x2="170.3" y2="526.6" stroke="#262626" stroke-width="1.1"/><line x1="244.1" y1="532.2" x2="244.1" y2="526.6" stroke="#262626" stroke-width="1.1"/><line x1="281.4" y1="341.3" x2="287.0" y2="341.3" stroke="#262626" stroke-width="1.1"/><line x1="281.4" y1="379.8" x2="287.0" y2="379.8" stroke="#262626" stroke-width="1.1"/><line x1="281.4" y1="418.3" x2="287.0" y2="418.3" stroke="#262626" stroke-width="1.1"/><line x1="281.4" y1="456.8" x2="287.0" y2="456.8" stroke="#262626" stroke-width="1.1"/><line x1="281.4" y1="495.3" x2="287.0" y2="495.3" stroke="#262626" stroke-width="1.1"/><line x1="318.2" y1="532.2" x2="318.2" y2="526.6" stroke="#262626" stroke-width="1.1"/><line x1="392.0" y1="532.2" x2="392.0" y2="526.6" stroke="#262626" stroke-width="1.1"/><line x1="465.8" y1="532.2" x2="465.8" y2="526.6" stroke="#262626" stroke-width="1.1"/><line x1="503.1" y1="341.3" x2="508.70000000000005" y2="341.3" stroke="#262626" stroke-width="1.1"/><line x1="503.1" y1="379.8" x2="508.70000000000005" y2="379.8" stroke="#262626" stroke-width="1.1"/><line x1="503.1" y1="418.3" x2="508.70000000000005" y2="418.3" stroke="#262626" stroke-width="1.1"/><line x1="503.1" y1="456.8" x2="508.70000000000005" y2="456.8" stroke="#262626" stroke-width="1.1"/><line x1="503.1" y1="495.3" x2="508.70000000000005" y2="495.3" stroke="#262626" stroke-width="1.1"/><line x1="539.9" y1="532.2" x2="539.9" y2="526.6" stroke="#262626" stroke-width="1.1"/><line x1="613.7" y1="532.2" x2="613.7" y2="526.6" stroke="#262626" stroke-width="1.1"/><line x1="687.5" y1="532.2" x2="687.5" y2="526.6" stroke="#262626" stroke-width="1.1"/><rect x="624.3" y="21.5" width="97.2" height="48.8" rx="2.2" fill="#fff" fill-opacity="0.8" stroke="#d0d0d0" stroke-width="1"/><circle cx="711.3" cy="30.2" r="1.97" fill="#6583ae" stroke="#4f6e9e" stroke-width="0.5"/><circle cx="711.4" cy="45.8" r="2.75" fill="#b3181a"/><line x1="704.5" y1="60.1" x2="719" y2="60.0" stroke="#000" stroke-width="1.6"/><rect x="624.3" y="316.1" width="97.2" height="48.8" rx="2.2" fill="#fff" fill-opacity="0.8" stroke="#d0d0d0" stroke-width="1"/><circle cx="711.3" cy="324.8" r="1.97" fill="#6583ae" stroke="#4f6e9e" stroke-width="0.5"/><circle cx="711.4" cy="340.40000000000003" r="2.75" fill="#b3181a"/><line x1="704.5" y1="354.70000000000005" x2="719" y2="354.6" stroke="#000" stroke-width="1.6"/><line x1="402.2" y1="276.4" x2="408.4" y2="261.3" stroke="#1f1f1f" stroke-width="1.45"/><g stroke="#222" stroke-width="0.85" stroke-linecap="butt"><line x1="395.8" y1="268.20000000000005" x2="395.8" y2="274.0"/><line x1="392.85" y1="269.45000000000005" x2="398.75" y2="272.75"/><line x1="392.85" y1="272.75" x2="398.75" y2="269.45000000000005"/></g><circle cx="431.2" cy="273.4" r="3.55" fill="none" stroke="#222" stroke-width="0.95"/><circle cx="431.2" cy="273.4" r="0.95" fill="#222"/></svg><div id="txt" style="position:absolute;left:0;top:0;width:725px;height:568px;will-change:transform;"><div class="t tt" style="left:170.9px;top:-1.0px">1.0 &lt; z &lt; 1.5</div><div class="t tt" style="left:392.6px;top:-1.0px">1.5 &lt; z &lt; 2.0</div><div class="t tt" style="left:614.2px;top:-1.0px">2.0 &lt; z &lt; 2.5</div><div class="t tt" style="left:170.9px;top:293.4px">1.0 &lt; z &lt; 1.5</div><div class="t tt" style="left:392.6px;top:293.4px">1.5 &lt; z &lt; 2.0</div><div class="t tt" style="left:614.2px;top:293.4px">2.0 &lt; z &lt; 2.5</div><div class="t yl" style="left:6.9px;top:39.7px">0.4</div><div class="t yl" style="left:6.9px;top:78.4px">0.2</div><div class="t yl" style="left:6.9px;top:117.1px">0.0</div><div class="t yl" style="left:6.9px;top:155.6px">−0.2</div><div class="t yl" style="left:6.9px;top:194.3px">−0.4</div><div class="t yl" style="left:6.9px;top:334.5px">0.4</div><div class="t yl" style="left:6.9px;top:373.0px">0.2</div><div class="t yl" style="left:6.9px;top:411.5px">0.0</div><div class="t yl" style="left:6.9px;top:450.0px">−0.2</div><div class="t yl" style="left:6.9px;top:488.5px">−0.4</div><div class="t xl" style="left:67.6px;top:240.9px">9</div><div class="t xl" style="left:149.7px;top:240.9px">10</div><div class="t xl" style="left:231.8px;top:240.9px">11</div><div class="t xl" style="left:96.5px;top:535.4px">0</div><div class="t xl" style="left:170.3px;top:535.4px">1</div><div class="t xl" style="left:244.1px;top:535.4px">2</div><div class="t xl" style="left:289.3px;top:240.9px">9</div><div class="t xl" style="left:371.4px;top:240.9px">10</div><div class="t xl" style="left:453.5px;top:240.9px">11</div><div class="t xl" style="left:318.2px;top:535.4px">0</div><div class="t xl" style="left:392.0px;top:535.4px">1</div><div class="t xl" style="left:465.8px;top:535.4px">2</div><div class="t xl" style="left:511.0px;top:240.9px">9</div><div class="t xl" style="left:593.1px;top:240.9px">10</div><div class="t xl" style="left:675.2px;top:240.9px">11</div><div class="t xl" style="left:539.9px;top:535.4px">0</div><div class="t xl" style="left:613.7px;top:535.4px">1</div><div class="t xl" style="left:687.5px;top:535.4px">2</div><span class="t" style="left:345.3px;top:258.37px;font-size:19px;transform-origin:0 50%;transform:scaleX(1.05);">log</span><span class="t" style="left:374.9px;top:258.37px;font-size:19px;transform-origin:0 50%;transform:scaleX(0.93);">M</span><span class="t" style="left:408.2px;top:258.37px;font-size:19px;transform-origin:0 50%;transform:scaleX(0.93);">M</span><div class="t ax" style="left:392.3px;top:553.1px">V - J</div><div style="position:absolute;left:0;top:217.3px;width:0;height:0;transform-origin:0 0;transform:rotate(-90deg)"><span style="position:absolute;left:0px;top:-1.47px;font-size:17.8px;line-height:1;white-space:nowrap;transform-origin:0 50%;transform:scaleX(1.1)">log(</span><span style="position:absolute;left:32.4px;top:-1.47px;font-size:17.8px;line-height:1;white-space:nowrap;transform-origin:0 50%;font-style:italic;transform:scaleX(1.25)">r</span><span style="position:absolute;left:40.9px;top:5.80px;font-size:13px;line-height:1;white-space:nowrap;transform-origin:0 50%;transform:scaleX(1.1)"><i>e</i>,<span style="margin-left:2px">4.4</span><i>&micro;m</i></span><span style="position:absolute;left:100.6px;top:-1.47px;font-size:17.8px;line-height:1;white-space:nowrap;transform-origin:0 50%;transform:scaleX(1.1)">/</span><span style="position:absolute;left:110.8px;top:-1.47px;font-size:17.8px;line-height:1;white-space:nowrap;transform-origin:0 50%;font-style:italic;transform:scaleX(1.25)">r</span><span style="position:absolute;left:117.3px;top:5.80px;font-size:13px;line-height:1;white-space:nowrap;transform-origin:0 50%;transform:scaleX(1.1)"><i>e</i>,<span style="margin-left:2px">1.5</span><i>&micro;m</i></span><span style="position:absolute;left:172.6px;top:-1.47px;font-size:17.8px;line-height:1;white-space:nowrap;transform-origin:0 50%;transform:scaleX(1.1)">)</span></div><div style="position:absolute;left:0;top:511.6px;width:0;height:0;transform-origin:0 0;transform:rotate(-90deg)"><span style="position:absolute;left:0px;top:-1.47px;font-size:17.8px;line-height:1;white-space:nowrap;transform-origin:0 50%;transform:scaleX(1.1)">log(</span><span style="position:absolute;left:32.4px;top:-1.47px;font-size:17.8px;line-height:1;white-space:nowrap;transform-origin:0 50%;font-style:italic;transform:scaleX(1.25)">r</span><span style="position:absolute;left:40.9px;top:5.80px;font-size:13px;line-height:1;white-space:nowrap;transform-origin:0 50%;transform:scaleX(1.1)"><i>e</i>,<span style="margin-left:2px">4.4</span><i>&micro;m</i></span><span style="position:absolute;left:100.6px;top:-1.47px;font-size:17.8px;line-height:1;white-space:nowrap;transform-origin:0 50%;transform:scaleX(1.1)">/</span><span style="position:absolute;left:110.8px;top:-1.47px;font-size:17.8px;line-height:1;white-space:nowrap;transform-origin:0 50%;font-style:italic;transform:scaleX(1.25)">r</span><span style="position:absolute;left:117.3px;top:5.80px;font-size:13px;line-height:1;white-space:nowrap;transform-origin:0 50%;transform:scaleX(1.1)"><i>e</i>,<span style="margin-left:2px">1.5</span><i>&micro;m</i></span><span style="position:absolute;left:172.6px;top:-1.47px;font-size:17.8px;line-height:1;white-space:nowrap;transform-origin:0 50%;transform:scaleX(1.1)">)</span></div><div class="t lg" style="left:620.0px;top:22.2px">star-forming</div><div class="t lg" style="left:620.0px;top:37.8px">quiescent</div><div class="t lg" style="left:620.0px;top:53.4px">best fit</div><div class="t lg" style="left:620.0px;top:316.8px">star-forming</div><div class="t lg" style="left:620.0px;top:332.4px">quiescent</div><div class="t lg" style="left:620.0px;top:348.0px">best fit</div></div></body></html>
